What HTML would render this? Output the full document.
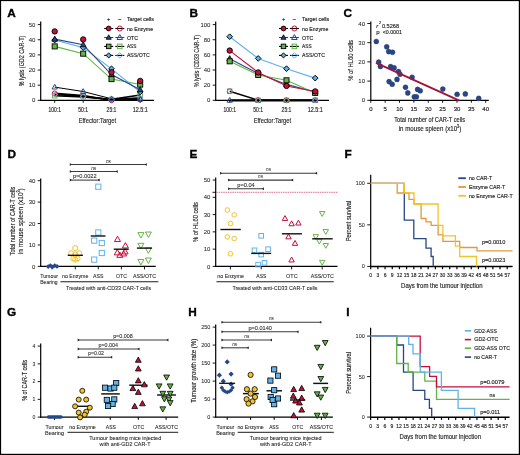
<!DOCTYPE html>
<html><head><meta charset="utf-8"><style>
html,body{margin:0;padding:0;background:#fff;}
svg{display:block;font-family:"Liberation Sans",sans-serif;will-change:transform;}
text{stroke:#2a2a2a;stroke-width:0.16px;}
</style></head><body>
<svg width="520" height="455" viewBox="0 0 520 455">
<rect x="0" y="0" width="520" height="455" fill="#fff"/>
<text x="7.2" y="17.2" font-size="11.8" text-anchor="start" fill="#000" font-weight="bold" style="stroke:#000;stroke-width:0.35px">A</text>
<line x1="40.7" y1="21.6" x2="40.7" y2="100.9" stroke="#000" stroke-width="1.2" />
<line x1="37.7" y1="100.3" x2="40.7" y2="100.3" stroke="#000" stroke-width="0.9" />
<text x="35.4" y="102.46" font-size="6" text-anchor="end" fill="#222" font-weight="normal" style="stroke-width:0.05px">0</text>
<line x1="37.7" y1="85.16" x2="40.7" y2="85.16" stroke="#000" stroke-width="0.9" />
<text x="35.4" y="87.32" font-size="6" text-anchor="end" fill="#222" font-weight="normal" style="stroke-width:0.05px">10</text>
<line x1="37.7" y1="70.02" x2="40.7" y2="70.02" stroke="#000" stroke-width="0.9" />
<text x="35.4" y="72.18" font-size="6" text-anchor="end" fill="#222" font-weight="normal" style="stroke-width:0.05px">20</text>
<line x1="37.7" y1="54.88" x2="40.7" y2="54.88" stroke="#000" stroke-width="0.9" />
<text x="35.4" y="57.04" font-size="6" text-anchor="end" fill="#222" font-weight="normal" style="stroke-width:0.05px">30</text>
<line x1="37.7" y1="39.74" x2="40.7" y2="39.74" stroke="#000" stroke-width="0.9" />
<text x="35.4" y="41.9" font-size="6" text-anchor="end" fill="#222" font-weight="normal" style="stroke-width:0.05px">40</text>
<line x1="37.7" y1="24.6" x2="40.7" y2="24.6" stroke="#000" stroke-width="0.9" />
<text x="35.4" y="26.76" font-size="6" text-anchor="end" fill="#222" font-weight="normal" style="stroke-width:0.05px">50</text>
<line x1="40.1" y1="100.3" x2="154" y2="100.3" stroke="#000" stroke-width="1.2" />
<line x1="54.7" y1="100.3" x2="54.7" y2="102.8" stroke="#000" stroke-width="0.9" />
<text x="54.7" y="111.5" font-size="6.3" text-anchor="middle" fill="#222" font-weight="normal" textLength="12.4" lengthAdjust="spacingAndGlyphs" >100:1</text>
<line x1="83.2" y1="100.3" x2="83.2" y2="102.8" stroke="#000" stroke-width="0.9" />
<text x="83.2" y="111.5" font-size="6.3" text-anchor="middle" fill="#222" font-weight="normal" textLength="9.8" lengthAdjust="spacingAndGlyphs" >50:1</text>
<line x1="111.5" y1="100.3" x2="111.5" y2="102.8" stroke="#000" stroke-width="0.9" />
<text x="111.5" y="111.5" font-size="6.3" text-anchor="middle" fill="#222" font-weight="normal" textLength="9.8" lengthAdjust="spacingAndGlyphs" >25:1</text>
<line x1="140.2" y1="100.3" x2="140.2" y2="102.8" stroke="#000" stroke-width="0.9" />
<text x="140.2" y="111.5" font-size="6.3" text-anchor="middle" fill="#222" font-weight="normal" textLength="15" lengthAdjust="spacingAndGlyphs" >12.5:1</text>
<text x="97.4" y="122.5" font-size="8" text-anchor="middle" fill="#222" font-weight="normal" textLength="37.3" lengthAdjust="spacingAndGlyphs" >Effector:Target</text>
<text x="23.7" y="61" font-size="7.9" text-anchor="middle" fill="#222" font-weight="normal" textLength="50.5" lengthAdjust="spacingAndGlyphs" transform="rotate(-90 23.7 61)" >% lysis (GD2 CAR-T)</text>
<text x="108.7" y="21.3" font-size="5.5" text-anchor="middle" fill="#222" font-weight="normal" >+</text>
<text x="119.8" y="21.3" font-size="5.5" text-anchor="middle" fill="#222" font-weight="normal" >–</text>
<text x="126.9" y="21.4" font-size="5.6" text-anchor="start" fill="#222" font-weight="normal" textLength="27.1" lengthAdjust="spacingAndGlyphs" >Target cells</text>
<line x1="104.2" y1="28.5" x2="113.2" y2="28.5" stroke="#000" stroke-width="1.1" />
<circle cx="108.7" cy="28.5" r="2.4" fill="#c80e3a" stroke="#000" stroke-width="0.9"/>
<line x1="115.3" y1="28.5" x2="124.3" y2="28.5" stroke="#000" stroke-width="1.1" />
<circle cx="119.8" cy="28.5" r="2.5" fill="none" stroke="#c80e3a" stroke-width="1"/>
<text x="126.9" y="30.5" font-size="5.6" text-anchor="start" fill="#222" font-weight="normal" textLength="26.2" lengthAdjust="spacingAndGlyphs" >no Enzyme</text>
<line x1="104.2" y1="37.5" x2="113.2" y2="37.5" stroke="#26478a" stroke-width="1.1" />
<polygon points="108.7,34.78 111.22,39.31 106.18,39.31" fill="#26478a" stroke="#000" stroke-width="0.8" stroke-linejoin="miter"/>
<line x1="115.3" y1="37.5" x2="124.3" y2="37.5" stroke="#26478a" stroke-width="1.1" />
<polygon points="119.8,34.52 122.56,39.49 117.04,39.49" fill="none" stroke="#26478a" stroke-width="1" stroke-linejoin="miter"/>
<text x="126.9" y="39.5" font-size="5.6" text-anchor="start" fill="#222" font-weight="normal" textLength="11.2" lengthAdjust="spacingAndGlyphs" >OTC</text>
<line x1="104.2" y1="46.4" x2="113.2" y2="46.4" stroke="#000" stroke-width="1.1" />
<rect x="106.44" y="44.14" width="4.51" height="4.51" fill="#62b545" stroke="#000" stroke-width="0.9"/>
<line x1="115.3" y1="46.4" x2="124.3" y2="46.4" stroke="#000" stroke-width="1.1" />
<rect x="117.52" y="44.12" width="4.56" height="4.56" fill="none" stroke="#62b545" stroke-width="1"/>
<text x="126.9" y="48.4" font-size="5.6" text-anchor="start" fill="#222" font-weight="normal" textLength="9.5" lengthAdjust="spacingAndGlyphs" >ASS</text>
<line x1="104.2" y1="55.4" x2="113.2" y2="55.4" stroke="#000" stroke-width="1.1" />
<polygon points="108.7,52.88 111.22,55.4 108.7,57.92 106.18,55.4" fill="#62b2ea" stroke="#000" stroke-width="1"/>
<line x1="115.3" y1="55.4" x2="124.3" y2="55.4" stroke="#000" stroke-width="1.1" />
<polygon points="119.8,52.64 122.56,55.4 119.8,58.16 117.04,55.4" fill="none" stroke="#62b2ea" stroke-width="1"/>
<text x="126.9" y="57.4" font-size="5.6" text-anchor="start" fill="#222" font-weight="normal" textLength="22.8" lengthAdjust="spacingAndGlyphs" >ASS/OTC</text>
<polyline points="54.7,87.13 83.2,91.52 111.5,98.79 140.2,99.09" fill="none" stroke="#000" stroke-width="1" stroke-linejoin="miter" />
<polyline points="54.7,93.34 83.2,95.46 111.5,100.3 140.2,99.54" fill="none" stroke="#000" stroke-width="1.6" stroke-linejoin="miter" />
<polyline points="54.7,94.4 83.2,96.36 111.5,99.69 140.2,97.88" fill="none" stroke="#000" stroke-width="1.6" stroke-linejoin="miter" />
<polyline points="54.7,95.76 83.2,96.97 111.5,99.39 140.2,95" fill="none" stroke="#000" stroke-width="1.6" stroke-linejoin="miter" />
<rect x="52.52" y="93.57" width="4.37" height="4.37" fill="none" stroke="#62b545" stroke-width="1"/>
<rect x="81.02" y="94.78" width="4.37" height="4.37" fill="none" stroke="#62b545" stroke-width="1"/>
<rect x="109.31" y="97.21" width="4.37" height="4.37" fill="none" stroke="#62b545" stroke-width="1"/>
<rect x="138.01" y="92.82" width="4.37" height="4.37" fill="none" stroke="#62b545" stroke-width="1"/>
<circle cx="54.7" cy="93.34" r="2.39" fill="none" stroke="#c80e3a" stroke-width="1"/>
<circle cx="83.2" cy="95.46" r="2.39" fill="none" stroke="#c80e3a" stroke-width="1"/>
<circle cx="111.5" cy="100.3" r="2.39" fill="none" stroke="#c80e3a" stroke-width="1"/>
<circle cx="140.2" cy="99.54" r="2.39" fill="none" stroke="#c80e3a" stroke-width="1"/>
<polygon points="54.7,91.75 57.34,94.4 54.7,97.04 52.06,94.4" fill="none" stroke="#62b2ea" stroke-width="1"/>
<polygon points="83.2,93.72 85.84,96.36 83.2,99.01 80.56,96.36" fill="none" stroke="#62b2ea" stroke-width="1"/>
<polygon points="111.5,97.05 114.14,99.69 111.5,102.34 108.86,99.69" fill="none" stroke="#62b2ea" stroke-width="1"/>
<polygon points="140.2,95.23 142.84,97.88 140.2,100.52 137.55,97.88" fill="none" stroke="#62b2ea" stroke-width="1"/>
<polygon points="54.7,84.27 57.34,89.03 52.06,89.03" fill="none" stroke="#26478a" stroke-width="1" stroke-linejoin="miter"/>
<polygon points="83.2,88.66 85.84,93.42 80.56,93.42" fill="none" stroke="#26478a" stroke-width="1" stroke-linejoin="miter"/>
<polygon points="111.5,95.93 114.14,100.69 108.86,100.69" fill="none" stroke="#26478a" stroke-width="1" stroke-linejoin="miter"/>
<polygon points="140.2,96.23 142.84,100.99 137.55,100.99" fill="none" stroke="#26478a" stroke-width="1" stroke-linejoin="miter"/>
<polyline points="54.7,46.4 83.2,53.67 111.5,79.1 140.2,84.55" fill="none" stroke="#62b545" stroke-width="1.1" stroke-linejoin="miter" />
<polyline points="54.7,40.04 83.2,47.61 111.5,68.81 140.2,91.97" fill="none" stroke="#62b2ea" stroke-width="1.1" stroke-linejoin="miter" />
<polyline points="54.7,39.13 83.2,44.74 111.5,74.56 140.2,89.85" fill="none" stroke="#26478a" stroke-width="1.1" stroke-linejoin="miter" />
<rect x="52.16" y="43.86" width="5.08" height="5.08" fill="#62b545" stroke="#000" stroke-width="0.9"/>
<rect x="80.66" y="51.13" width="5.08" height="5.08" fill="#62b545" stroke="#000" stroke-width="0.9"/>
<rect x="108.96" y="76.57" width="5.08" height="5.08" fill="#62b545" stroke="#000" stroke-width="0.9"/>
<rect x="137.66" y="82.02" width="5.08" height="5.08" fill="#62b545" stroke="#000" stroke-width="0.9"/>
<polygon points="54.7,37.21 57.54,40.04 54.7,42.88 51.87,40.04" fill="#62b2ea" stroke="#000" stroke-width="1"/>
<polygon points="83.2,44.78 86.03,47.61 83.2,50.45 80.37,47.61" fill="#62b2ea" stroke="#000" stroke-width="1"/>
<polygon points="111.5,65.97 114.33,68.81 111.5,71.64 108.67,68.81" fill="#62b2ea" stroke="#000" stroke-width="1"/>
<polygon points="140.2,89.14 143.03,91.97 140.2,94.81 137.36,91.97" fill="#62b2ea" stroke="#000" stroke-width="1"/>
<polygon points="54.7,36.07 57.54,41.18 51.87,41.18" fill="#26478a" stroke="#000" stroke-width="0.8" stroke-linejoin="miter"/>
<polygon points="83.2,41.67 86.03,46.78 80.37,46.78" fill="#26478a" stroke="#000" stroke-width="0.8" stroke-linejoin="miter"/>
<polygon points="111.5,71.5 114.33,76.6 108.67,76.6" fill="#26478a" stroke="#000" stroke-width="0.8" stroke-linejoin="miter"/>
<polygon points="140.2,86.79 143.03,91.89 137.36,91.89" fill="#26478a" stroke="#000" stroke-width="0.8" stroke-linejoin="miter"/>
<circle cx="54.7" cy="31.41" r="2.7" fill="#c80e3a" stroke="#000" stroke-width="0.9"/>
<circle cx="83.2" cy="39.44" r="2.7" fill="#c80e3a" stroke="#000" stroke-width="0.9"/>
<circle cx="111.5" cy="72.29" r="2.7" fill="#c80e3a" stroke="#000" stroke-width="0.9"/>
<circle cx="140.2" cy="80.92" r="2.7" fill="#c80e3a" stroke="#000" stroke-width="0.9"/>
<text x="189.4" y="17.2" font-size="11.8" text-anchor="start" fill="#000" font-weight="bold" style="stroke:#000;stroke-width:0.35px">B</text>
<line x1="215.7" y1="21.6" x2="215.7" y2="100.9" stroke="#000" stroke-width="1.2" />
<line x1="212.7" y1="100.3" x2="215.7" y2="100.3" stroke="#000" stroke-width="0.9" />
<text x="210.4" y="102.46" font-size="6" text-anchor="end" fill="#222" font-weight="normal" style="stroke-width:0.05px">0</text>
<line x1="212.7" y1="85.16" x2="215.7" y2="85.16" stroke="#000" stroke-width="0.9" />
<text x="210.4" y="87.32" font-size="6" text-anchor="end" fill="#222" font-weight="normal" style="stroke-width:0.05px">20</text>
<line x1="212.7" y1="70.02" x2="215.7" y2="70.02" stroke="#000" stroke-width="0.9" />
<text x="210.4" y="72.18" font-size="6" text-anchor="end" fill="#222" font-weight="normal" style="stroke-width:0.05px">40</text>
<line x1="212.7" y1="54.88" x2="215.7" y2="54.88" stroke="#000" stroke-width="0.9" />
<text x="210.4" y="57.04" font-size="6" text-anchor="end" fill="#222" font-weight="normal" style="stroke-width:0.05px">60</text>
<line x1="212.7" y1="39.74" x2="215.7" y2="39.74" stroke="#000" stroke-width="0.9" />
<text x="210.4" y="41.9" font-size="6" text-anchor="end" fill="#222" font-weight="normal" style="stroke-width:0.05px">80</text>
<line x1="212.7" y1="24.6" x2="215.7" y2="24.6" stroke="#000" stroke-width="0.9" />
<text x="210.4" y="26.76" font-size="6" text-anchor="end" fill="#222" font-weight="normal" style="stroke-width:0.05px">100</text>
<line x1="215.1" y1="100.3" x2="329" y2="100.3" stroke="#000" stroke-width="1.2" />
<line x1="229.7" y1="100.3" x2="229.7" y2="102.8" stroke="#000" stroke-width="0.9" />
<text x="229.7" y="111.5" font-size="6.3" text-anchor="middle" fill="#222" font-weight="normal" textLength="12.4" lengthAdjust="spacingAndGlyphs" >100:1</text>
<line x1="258.2" y1="100.3" x2="258.2" y2="102.8" stroke="#000" stroke-width="0.9" />
<text x="258.2" y="111.5" font-size="6.3" text-anchor="middle" fill="#222" font-weight="normal" textLength="9.8" lengthAdjust="spacingAndGlyphs" >50:1</text>
<line x1="286.5" y1="100.3" x2="286.5" y2="102.8" stroke="#000" stroke-width="0.9" />
<text x="286.5" y="111.5" font-size="6.3" text-anchor="middle" fill="#222" font-weight="normal" textLength="9.8" lengthAdjust="spacingAndGlyphs" >25:1</text>
<line x1="315.2" y1="100.3" x2="315.2" y2="102.8" stroke="#000" stroke-width="0.9" />
<text x="315.2" y="111.5" font-size="6.3" text-anchor="middle" fill="#222" font-weight="normal" textLength="15" lengthAdjust="spacingAndGlyphs" >12.5:1</text>
<text x="272.4" y="122.5" font-size="8" text-anchor="middle" fill="#222" font-weight="normal" textLength="37.3" lengthAdjust="spacingAndGlyphs" >Effector:Target</text>
<text x="198.5" y="61" font-size="7.9" text-anchor="middle" fill="#222" font-weight="normal" textLength="52" lengthAdjust="spacingAndGlyphs" transform="rotate(-90 198.5 61)" >% lysis (CD33 CAR-T)</text>
<text x="283.5" y="21.3" font-size="5.5" text-anchor="middle" fill="#222" font-weight="normal" >+</text>
<text x="294.4" y="21.3" font-size="5.5" text-anchor="middle" fill="#222" font-weight="normal" >–</text>
<text x="302.1" y="21.4" font-size="5.6" text-anchor="start" fill="#222" font-weight="normal" textLength="27.1" lengthAdjust="spacingAndGlyphs" >Target cells</text>
<line x1="279" y1="28.5" x2="288" y2="28.5" stroke="#000" stroke-width="1.1" />
<circle cx="283.5" cy="28.5" r="2.4" fill="#c80e3a" stroke="#000" stroke-width="0.9"/>
<line x1="289.9" y1="28.5" x2="298.9" y2="28.5" stroke="#000" stroke-width="1.1" />
<circle cx="294.4" cy="28.5" r="2.5" fill="none" stroke="#c80e3a" stroke-width="1"/>
<text x="302.1" y="30.5" font-size="5.6" text-anchor="start" fill="#222" font-weight="normal" textLength="26.2" lengthAdjust="spacingAndGlyphs" >no Enzyme</text>
<line x1="279" y1="37.5" x2="288" y2="37.5" stroke="#26478a" stroke-width="1.1" />
<polygon points="283.5,34.78 286.02,39.31 280.98,39.31" fill="#26478a" stroke="#000" stroke-width="0.8" stroke-linejoin="miter"/>
<line x1="289.9" y1="37.5" x2="298.9" y2="37.5" stroke="#26478a" stroke-width="1.1" />
<polygon points="294.4,34.52 297.16,39.49 291.64,39.49" fill="none" stroke="#26478a" stroke-width="1" stroke-linejoin="miter"/>
<text x="302.1" y="39.5" font-size="5.6" text-anchor="start" fill="#222" font-weight="normal" textLength="11.2" lengthAdjust="spacingAndGlyphs" >OTC</text>
<line x1="279" y1="46.4" x2="288" y2="46.4" stroke="#000" stroke-width="1.1" />
<rect x="281.24" y="44.14" width="4.51" height="4.51" fill="#62b545" stroke="#000" stroke-width="0.9"/>
<line x1="289.9" y1="46.4" x2="298.9" y2="46.4" stroke="#000" stroke-width="1.1" />
<rect x="292.12" y="44.12" width="4.56" height="4.56" fill="none" stroke="#62b545" stroke-width="1"/>
<text x="302.1" y="48.4" font-size="5.6" text-anchor="start" fill="#222" font-weight="normal" textLength="9.5" lengthAdjust="spacingAndGlyphs" >ASS</text>
<line x1="279" y1="55.4" x2="288" y2="55.4" stroke="#000" stroke-width="1.1" />
<polygon points="283.5,52.88 286.02,55.4 283.5,57.92 280.98,55.4" fill="#62b2ea" stroke="#000" stroke-width="1"/>
<line x1="289.9" y1="55.4" x2="298.9" y2="55.4" stroke="#000" stroke-width="1.1" />
<polygon points="294.4,52.64 297.16,55.4 294.4,58.16 291.64,55.4" fill="none" stroke="#62b2ea" stroke-width="1"/>
<text x="302.1" y="57.4" font-size="5.6" text-anchor="start" fill="#222" font-weight="normal" textLength="22.8" lengthAdjust="spacingAndGlyphs" >ASS/OTC</text>
<polyline points="229.7,91.22 258.2,100.3 286.5,100.3 315.2,100.3" fill="none" stroke="#000" stroke-width="1.4" stroke-linejoin="miter" />
<line x1="229.7" y1="100.3" x2="315.2" y2="100.3" stroke="#000" stroke-width="2.2" />
<polygon points="229.7,97.44 232.34,102.2 227.05,102.2" fill="none" stroke="#26478a" stroke-width="1" stroke-linejoin="miter"/>
<polygon points="258.2,97.44 260.84,102.2 255.55,102.2" fill="none" stroke="#26478a" stroke-width="1" stroke-linejoin="miter"/>
<polygon points="286.5,97.44 289.14,102.2 283.86,102.2" fill="none" stroke="#26478a" stroke-width="1" stroke-linejoin="miter"/>
<polygon points="315.2,97.44 317.84,102.2 312.56,102.2" fill="none" stroke="#26478a" stroke-width="1" stroke-linejoin="miter"/>
<rect x="227.51" y="89.03" width="4.37" height="4.37" fill="none" stroke="#62b545" stroke-width="1"/>
<rect x="256.01" y="98.11" width="4.37" height="4.37" fill="none" stroke="#62b545" stroke-width="1"/>
<rect x="284.31" y="98.11" width="4.37" height="4.37" fill="none" stroke="#62b545" stroke-width="1"/>
<rect x="313.01" y="98.11" width="4.37" height="4.37" fill="none" stroke="#62b545" stroke-width="1"/>
<circle cx="229.7" cy="91.22" r="2.39" fill="none" stroke="#c80e3a" stroke-width="1"/>
<circle cx="258.2" cy="100.3" r="2.39" fill="none" stroke="#c80e3a" stroke-width="1"/>
<circle cx="286.5" cy="100.3" r="2.39" fill="none" stroke="#c80e3a" stroke-width="1"/>
<circle cx="315.2" cy="100.3" r="2.39" fill="none" stroke="#c80e3a" stroke-width="1"/>
<polygon points="229.7,88.57 232.34,91.22 229.7,93.86 227.05,91.22" fill="none" stroke="#62b2ea" stroke-width="1"/>
<polygon points="258.2,97.66 260.84,100.3 258.2,102.94 255.55,100.3" fill="none" stroke="#62b2ea" stroke-width="1"/>
<polygon points="286.5,97.66 289.14,100.3 286.5,102.94 283.86,100.3" fill="none" stroke="#62b2ea" stroke-width="1"/>
<polygon points="315.2,97.66 317.84,100.3 315.2,102.94 312.56,100.3" fill="none" stroke="#62b2ea" stroke-width="1"/>
<polyline points="229.7,58.66 258.2,73.43 286.5,84.4 315.2,91.97" fill="none" stroke="#26478a" stroke-width="1.1" stroke-linejoin="miter" />
<polyline points="229.7,61.31 258.2,74.94 286.5,80.32 315.2,92.88" fill="none" stroke="#62b545" stroke-width="1.1" stroke-linejoin="miter" />
<polyline points="229.7,50.57 258.2,72.44 286.5,85.92 315.2,91.44" fill="none" stroke="#c80e3a" stroke-width="1.1" stroke-linejoin="miter" />
<polyline points="229.7,36.71 258.2,58.44 286.5,68.66 315.2,78.12" fill="none" stroke="#62b2ea" stroke-width="1.1" stroke-linejoin="miter" />
<polygon points="229.7,55.6 232.53,60.71 226.86,60.71" fill="#26478a" stroke="#000" stroke-width="0.8" stroke-linejoin="miter"/>
<polygon points="258.2,70.36 261.03,75.47 255.36,75.47" fill="#26478a" stroke="#000" stroke-width="0.8" stroke-linejoin="miter"/>
<polygon points="286.5,81.34 289.33,86.44 283.67,86.44" fill="#26478a" stroke="#000" stroke-width="0.8" stroke-linejoin="miter"/>
<polygon points="315.2,88.91 318.03,94.01 312.37,94.01" fill="#26478a" stroke="#000" stroke-width="0.8" stroke-linejoin="miter"/>
<rect x="227.16" y="58.78" width="5.08" height="5.08" fill="#62b545" stroke="#000" stroke-width="0.9"/>
<rect x="255.66" y="72.4" width="5.08" height="5.08" fill="#62b545" stroke="#000" stroke-width="0.9"/>
<rect x="283.96" y="77.78" width="5.08" height="5.08" fill="#62b545" stroke="#000" stroke-width="0.9"/>
<rect x="312.66" y="90.34" width="5.08" height="5.08" fill="#62b545" stroke="#000" stroke-width="0.9"/>
<circle cx="229.7" cy="50.57" r="2.7" fill="#c80e3a" stroke="#000" stroke-width="0.9"/>
<circle cx="258.2" cy="72.44" r="2.7" fill="#c80e3a" stroke="#000" stroke-width="0.9"/>
<circle cx="286.5" cy="85.92" r="2.7" fill="#c80e3a" stroke="#000" stroke-width="0.9"/>
<circle cx="315.2" cy="91.44" r="2.7" fill="#c80e3a" stroke="#000" stroke-width="0.9"/>
<polygon points="229.7,33.88 232.53,36.71 229.7,39.55 226.86,36.71" fill="#62b2ea" stroke="#000" stroke-width="1"/>
<polygon points="258.2,55.6 261.03,58.44 258.2,61.27 255.36,58.44" fill="#62b2ea" stroke="#000" stroke-width="1"/>
<polygon points="286.5,65.82 289.33,68.66 286.5,71.49 283.67,68.66" fill="#62b2ea" stroke="#000" stroke-width="1"/>
<polygon points="315.2,75.28 318.03,78.12 315.2,80.95 312.37,78.12" fill="#62b2ea" stroke="#000" stroke-width="1"/>
<text x="343.6" y="17" font-size="11.8" text-anchor="start" fill="#000" font-weight="bold" style="stroke:#000;stroke-width:0.35px">C</text>
<line x1="370.8" y1="21.5" x2="370.8" y2="100.9" stroke="#000" stroke-width="1.2" />
<line x1="367.3" y1="100.3" x2="370.8" y2="100.3" stroke="#000" stroke-width="0.9" />
<text x="365" y="102.46" font-size="6" text-anchor="end" fill="#222" font-weight="normal" style="stroke-width:0.05px">0</text>
<line x1="367.3" y1="81.1" x2="370.8" y2="81.1" stroke="#000" stroke-width="0.9" />
<text x="365" y="83.26" font-size="6" text-anchor="end" fill="#222" font-weight="normal" style="stroke-width:0.05px">10</text>
<line x1="367.3" y1="61.9" x2="370.8" y2="61.9" stroke="#000" stroke-width="0.9" />
<text x="365" y="64.06" font-size="6" text-anchor="end" fill="#222" font-weight="normal" style="stroke-width:0.05px">20</text>
<line x1="367.3" y1="42.7" x2="370.8" y2="42.7" stroke="#000" stroke-width="0.9" />
<text x="365" y="44.86" font-size="6" text-anchor="end" fill="#222" font-weight="normal" style="stroke-width:0.05px">30</text>
<line x1="367.3" y1="23.5" x2="370.8" y2="23.5" stroke="#000" stroke-width="0.9" />
<text x="365" y="25.66" font-size="6" text-anchor="end" fill="#222" font-weight="normal" style="stroke-width:0.05px">40</text>
<line x1="370.2" y1="100.3" x2="488.8" y2="100.3" stroke="#000" stroke-width="1.2" />
<line x1="370.8" y1="100.3" x2="370.8" y2="102.8" stroke="#000" stroke-width="0.9" />
<text x="370.8" y="111.3" font-size="6" text-anchor="middle" fill="#222" font-weight="normal" >0</text>
<line x1="385.16" y1="100.3" x2="385.16" y2="102.8" stroke="#000" stroke-width="0.9" />
<text x="385.16" y="111.3" font-size="6" text-anchor="middle" fill="#222" font-weight="normal" >5</text>
<line x1="399.53" y1="100.3" x2="399.53" y2="102.8" stroke="#000" stroke-width="0.9" />
<text x="399.53" y="111.3" font-size="6" text-anchor="middle" fill="#222" font-weight="normal" >10</text>
<line x1="413.89" y1="100.3" x2="413.89" y2="102.8" stroke="#000" stroke-width="0.9" />
<text x="413.89" y="111.3" font-size="6" text-anchor="middle" fill="#222" font-weight="normal" >15</text>
<line x1="428.25" y1="100.3" x2="428.25" y2="102.8" stroke="#000" stroke-width="0.9" />
<text x="428.25" y="111.3" font-size="6" text-anchor="middle" fill="#222" font-weight="normal" >20</text>
<line x1="442.61" y1="100.3" x2="442.61" y2="102.8" stroke="#000" stroke-width="0.9" />
<text x="442.61" y="111.3" font-size="6" text-anchor="middle" fill="#222" font-weight="normal" >25</text>
<line x1="456.98" y1="100.3" x2="456.98" y2="102.8" stroke="#000" stroke-width="0.9" />
<text x="456.98" y="111.3" font-size="6" text-anchor="middle" fill="#222" font-weight="normal" >30</text>
<line x1="471.34" y1="100.3" x2="471.34" y2="102.8" stroke="#000" stroke-width="0.9" />
<text x="471.34" y="111.3" font-size="6" text-anchor="middle" fill="#222" font-weight="normal" >35</text>
<line x1="485.7" y1="100.3" x2="485.7" y2="102.8" stroke="#000" stroke-width="0.9" />
<text x="485.7" y="111.3" font-size="6" text-anchor="middle" fill="#222" font-weight="normal" >40</text>
<text x="429.6" y="122" font-size="7.5" text-anchor="middle" fill="#222" font-weight="normal" textLength="70.8" lengthAdjust="spacingAndGlyphs" >Total number of CAR-T cells</text>
<text x="430" y="130.6" font-size="7.3" text-anchor="middle" fill="#222" font-weight="normal" textLength="62.5" lengthAdjust="spacingAndGlyphs" >in  mouse spleen (x10<tspan font-size="4.5" dy="-3">3</tspan><tspan dy="3">)</tspan></text>
<text x="353.3" y="60.4" font-size="7.9" text-anchor="middle" fill="#222" font-weight="normal" textLength="40.7" lengthAdjust="spacingAndGlyphs" transform="rotate(-90 353.3 60.4)" >% of HL60 cells</text>
<text x="376.3" y="28.3" font-size="6" text-anchor="start" fill="#222" font-weight="normal" font-style="italic">r</text>
<text x="379" y="24.3" font-size="4" text-anchor="start" fill="#222" font-weight="normal" >2</text>
<text x="381.9" y="28.3" font-size="6" text-anchor="start" fill="#222" font-weight="normal" textLength="17.2" lengthAdjust="spacingAndGlyphs" >0.5268</text>
<text x="376.3" y="34.2" font-size="6" text-anchor="start" fill="#222" font-weight="normal" >p</text>
<text x="382.7" y="34.2" font-size="6" text-anchor="start" fill="#222" font-weight="normal" textLength="19.2" lengthAdjust="spacingAndGlyphs" >&lt;0.0001</text>
<circle cx="376.3" cy="41.5" r="2.55" fill="#274784" stroke="#1d3a70" stroke-width="0.3"/>
<circle cx="386.7" cy="46.7" r="2.55" fill="#274784" stroke="#1d3a70" stroke-width="0.3"/>
<circle cx="388.7" cy="51.6" r="2.55" fill="#274784" stroke="#1d3a70" stroke-width="0.3"/>
<circle cx="392.5" cy="52.2" r="2.55" fill="#274784" stroke="#1d3a70" stroke-width="0.3"/>
<circle cx="378.7" cy="62.1" r="2.55" fill="#274784" stroke="#1d3a70" stroke-width="0.3"/>
<circle cx="380.4" cy="66.4" r="2.55" fill="#274784" stroke="#1d3a70" stroke-width="0.3"/>
<circle cx="390.6" cy="66.6" r="2.55" fill="#274784" stroke="#1d3a70" stroke-width="0.3"/>
<circle cx="394.1" cy="67.8" r="2.55" fill="#274784" stroke="#1d3a70" stroke-width="0.3"/>
<circle cx="398.5" cy="71.5" r="2.55" fill="#274784" stroke="#1d3a70" stroke-width="0.3"/>
<circle cx="400" cy="74.2" r="2.55" fill="#274784" stroke="#1d3a70" stroke-width="0.3"/>
<circle cx="412.1" cy="77.3" r="2.55" fill="#274784" stroke="#1d3a70" stroke-width="0.3"/>
<circle cx="389.1" cy="81.6" r="2.55" fill="#274784" stroke="#1d3a70" stroke-width="0.3"/>
<circle cx="392.2" cy="84.2" r="2.55" fill="#274784" stroke="#1d3a70" stroke-width="0.3"/>
<circle cx="397" cy="79.4" r="2.55" fill="#274784" stroke="#1d3a70" stroke-width="0.3"/>
<circle cx="405.5" cy="87.2" r="2.55" fill="#274784" stroke="#1d3a70" stroke-width="0.3"/>
<circle cx="407.8" cy="92.9" r="2.55" fill="#274784" stroke="#1d3a70" stroke-width="0.3"/>
<circle cx="414.3" cy="96.7" r="2.55" fill="#274784" stroke="#1d3a70" stroke-width="0.3"/>
<circle cx="416.4" cy="96.7" r="2.55" fill="#274784" stroke="#1d3a70" stroke-width="0.3"/>
<circle cx="417.6" cy="89.4" r="2.55" fill="#274784" stroke="#1d3a70" stroke-width="0.3"/>
<circle cx="420.2" cy="90.8" r="2.55" fill="#274784" stroke="#1d3a70" stroke-width="0.3"/>
<circle cx="442.8" cy="89.1" r="2.55" fill="#274784" stroke="#1d3a70" stroke-width="0.3"/>
<circle cx="457.1" cy="94.3" r="2.55" fill="#274784" stroke="#1d3a70" stroke-width="0.3"/>
<circle cx="465.3" cy="93.9" r="2.55" fill="#274784" stroke="#1d3a70" stroke-width="0.3"/>
<circle cx="478.7" cy="98.4" r="2.55" fill="#274784" stroke="#1d3a70" stroke-width="0.3"/>
<line x1="376" y1="62.9" x2="459.4" y2="100.6" stroke="#a3143a" stroke-width="1.9" />
<text x="7.4" y="157.6" font-size="11.8" text-anchor="start" fill="#000" font-weight="bold" style="stroke:#000;stroke-width:0.35px">D</text>
<line x1="40.7" y1="178.5" x2="40.7" y2="267" stroke="#000" stroke-width="1.2" />
<line x1="37.7" y1="266.4" x2="40.7" y2="266.4" stroke="#000" stroke-width="0.9" />
<text x="35.4" y="268.56" font-size="6" text-anchor="end" fill="#222" font-weight="normal" style="stroke-width:0.05px">0</text>
<line x1="37.7" y1="244.97" x2="40.7" y2="244.97" stroke="#000" stroke-width="0.9" />
<text x="35.4" y="247.13" font-size="6" text-anchor="end" fill="#222" font-weight="normal" style="stroke-width:0.05px">10</text>
<line x1="37.7" y1="223.54" x2="40.7" y2="223.54" stroke="#000" stroke-width="0.9" />
<text x="35.4" y="225.7" font-size="6" text-anchor="end" fill="#222" font-weight="normal" style="stroke-width:0.05px">20</text>
<line x1="37.7" y1="202.11" x2="40.7" y2="202.11" stroke="#000" stroke-width="0.9" />
<text x="35.4" y="204.27" font-size="6" text-anchor="end" fill="#222" font-weight="normal" style="stroke-width:0.05px">30</text>
<line x1="37.7" y1="180.68" x2="40.7" y2="180.68" stroke="#000" stroke-width="0.9" />
<text x="35.4" y="182.84" font-size="6" text-anchor="end" fill="#222" font-weight="normal" style="stroke-width:0.05px">40</text>
<line x1="40.1" y1="266.4" x2="155.7" y2="266.4" stroke="#000" stroke-width="1.2" />
<line x1="51.9" y1="266.4" x2="51.9" y2="269.4" stroke="#000" stroke-width="0.9" />
<line x1="75.3" y1="266.4" x2="75.3" y2="269.4" stroke="#000" stroke-width="0.9" />
<line x1="98.3" y1="266.4" x2="98.3" y2="269.4" stroke="#000" stroke-width="0.9" />
<line x1="121.4" y1="266.4" x2="121.4" y2="269.4" stroke="#000" stroke-width="0.9" />
<line x1="144.5" y1="266.4" x2="144.5" y2="269.4" stroke="#000" stroke-width="0.9" />
<text x="49.15" y="277.6" font-size="5.6" text-anchor="middle" fill="#222" font-weight="normal" textLength="17.9" lengthAdjust="spacingAndGlyphs" style="stroke-width:0.08px">Tumour</text>
<text x="48.9" y="283.8" font-size="5.6" text-anchor="middle" fill="#222" font-weight="normal" textLength="17.3" lengthAdjust="spacingAndGlyphs" style="stroke-width:0.08px">Bearing</text>
<text x="75.2" y="277.7" font-size="5.6" text-anchor="middle" fill="#222" font-weight="normal" textLength="26.2" lengthAdjust="spacingAndGlyphs" style="stroke-width:0.08px">no Enzyme</text>
<text x="98.3" y="277.6" font-size="5.6" text-anchor="middle" fill="#222" font-weight="normal" textLength="10.4" lengthAdjust="spacingAndGlyphs" style="stroke-width:0.08px">ASS</text>
<text x="121.5" y="277.6" font-size="5.6" text-anchor="middle" fill="#222" font-weight="normal" textLength="10.9" lengthAdjust="spacingAndGlyphs" style="stroke-width:0.08px">OTC</text>
<text x="144.5" y="277.6" font-size="5.6" text-anchor="middle" fill="#222" font-weight="normal" textLength="23.2" lengthAdjust="spacingAndGlyphs" style="stroke-width:0.08px">ASS/OTC</text>
<line x1="60.5" y1="281.75" x2="158.3" y2="281.75" stroke="#000" stroke-width="0.9" />
<text x="108.6" y="289.5" font-size="5.6" text-anchor="middle" fill="#222" font-weight="normal" textLength="85" lengthAdjust="spacingAndGlyphs" style="stroke-width:0.08px">Treated with anti-CD33 CAR-T cells</text>
<text x="14.8" y="221" font-size="7.9" text-anchor="middle" fill="#222" font-weight="normal" textLength="68.6" lengthAdjust="spacingAndGlyphs" transform="rotate(-90 14.8 221)" >Total number of CAR-T cells</text>
<text x="23" y="221.2" font-size="7.9" text-anchor="middle" fill="#222" font-weight="normal" textLength="66" lengthAdjust="spacingAndGlyphs" transform="rotate(-90 23 221.2)" >in  mouse spleen (x10<tspan font-size="4.5" dy="-3">3</tspan><tspan dy="3">)</tspan></text>
<line x1="70" y1="164.5" x2="146.5" y2="164.5" stroke="#3a3a3a" stroke-width="1.05" />
<polygon points="69.8,163 71.7,164.5 69.8,166" fill="#222"/>
<polygon points="146.7,163 144.8,164.5 146.7,166" fill="#222"/>
<text x="108.4" y="162.6" font-size="5.2" text-anchor="middle" fill="#333" font-weight="normal" textLength="5" lengthAdjust="spacingAndGlyphs" font-style="italic" style="stroke-width:0.05px">ns</text>
<line x1="70" y1="171.4" x2="117.4" y2="171.4" stroke="#3a3a3a" stroke-width="1.05" />
<polygon points="69.8,169.9 71.7,171.4 69.8,172.9" fill="#222"/>
<polygon points="117.6,169.9 115.7,171.4 117.6,172.9" fill="#222"/>
<text x="93.7" y="169.5" font-size="5.2" text-anchor="middle" fill="#333" font-weight="normal" textLength="5" lengthAdjust="spacingAndGlyphs" font-style="italic" style="stroke-width:0.05px">ns</text>
<line x1="70" y1="180.1" x2="99.4" y2="180.1" stroke="#3a3a3a" stroke-width="1.05" />
<polygon points="69.8,178.6 71.7,180.1 69.8,181.6" fill="#222"/>
<polygon points="99.6,178.6 97.7,180.1 99.6,181.6" fill="#222"/>
<text x="84.8" y="178.2" font-size="5.8" text-anchor="middle" fill="#333" font-weight="normal" textLength="23.7" lengthAdjust="spacingAndGlyphs" style="stroke-width:0.1px">p=0.0022</text>
<polygon points="48.2,264.2 50.6,266.6 48.2,269 45.8,266.6" fill="#26478a" stroke="#26478a" stroke-width="0"/>
<polygon points="50.4,263.2 52.8,265.6 50.4,268 48,265.6" fill="#26478a" stroke="#26478a" stroke-width="0"/>
<polygon points="52.6,264.4 55,266.8 52.6,269.2 50.2,266.8" fill="#26478a" stroke="#26478a" stroke-width="0"/>
<polygon points="54.8,263.2 57.2,265.6 54.8,268 52.4,265.6" fill="#26478a" stroke="#26478a" stroke-width="0"/>
<polygon points="57,264 59.4,266.4 57,268.8 54.6,266.4" fill="#26478a" stroke="#26478a" stroke-width="0"/>
<circle cx="75.2" cy="248.1" r="2.55" fill="none" stroke="#f3c22a" stroke-width="1"/>
<circle cx="71.1" cy="253.3" r="2.55" fill="none" stroke="#f3c22a" stroke-width="1"/>
<circle cx="79.2" cy="253.3" r="2.55" fill="none" stroke="#f3c22a" stroke-width="1"/>
<circle cx="75.2" cy="254.5" r="2.55" fill="none" stroke="#f3c22a" stroke-width="1"/>
<circle cx="73.4" cy="258.4" r="2.55" fill="none" stroke="#f3c22a" stroke-width="1"/>
<circle cx="77.5" cy="258.4" r="2.55" fill="none" stroke="#f3c22a" stroke-width="1"/>
<circle cx="75.2" cy="259.6" r="2.55" fill="none" stroke="#f3c22a" stroke-width="1"/>
<line x1="67.7" y1="255.3" x2="82.9" y2="255.3" stroke="#111" stroke-width="1.4" />
<rect x="95.7" y="184.1" width="5.2" height="5.2" fill="none" stroke="#62b2ea" stroke-width="1"/>
<rect x="95.7" y="229.9" width="5.2" height="5.2" fill="none" stroke="#62b2ea" stroke-width="1"/>
<rect x="91.6" y="238" width="5.2" height="5.2" fill="none" stroke="#62b2ea" stroke-width="1"/>
<rect x="99.2" y="240.4" width="5.2" height="5.2" fill="none" stroke="#62b2ea" stroke-width="1"/>
<rect x="99.2" y="250.4" width="5.2" height="5.2" fill="none" stroke="#62b2ea" stroke-width="1"/>
<rect x="91.6" y="257" width="5.2" height="5.2" fill="none" stroke="#62b2ea" stroke-width="1"/>
<line x1="90.7" y1="236" x2="105.5" y2="236" stroke="#111" stroke-width="1.4" />
<polygon points="117.5,236.16 120.5,241.56 114.5,241.56" fill="none" stroke="#c80e3a" stroke-width="1" stroke-linejoin="miter"/>
<polygon points="125.4,242.56 128.4,247.96 122.4,247.96" fill="none" stroke="#c80e3a" stroke-width="1" stroke-linejoin="miter"/>
<polygon points="117.3,249.46 120.3,254.86 114.3,254.86" fill="none" stroke="#c80e3a" stroke-width="1" stroke-linejoin="miter"/>
<polygon points="125.1,248.56 128.1,253.96 122.1,253.96" fill="none" stroke="#c80e3a" stroke-width="1" stroke-linejoin="miter"/>
<polygon points="119.8,251.96 122.8,257.36 116.8,257.36" fill="none" stroke="#c80e3a" stroke-width="1" stroke-linejoin="miter"/>
<polygon points="123.6,250.56 126.6,255.96 120.6,255.96" fill="none" stroke="#c80e3a" stroke-width="1" stroke-linejoin="miter"/>
<line x1="113.8" y1="249.2" x2="128.8" y2="249.2" stroke="#111" stroke-width="1.4" />
<polygon points="140.9,238.04 143.9,232.64 137.9,232.64" fill="none" stroke="#62b545" stroke-width="1" stroke-linejoin="miter"/>
<polygon points="148.4,237.44 151.4,232.04 145.4,232.04" fill="none" stroke="#62b545" stroke-width="1" stroke-linejoin="miter"/>
<polygon points="140.9,248.74 143.9,243.34 137.9,243.34" fill="none" stroke="#62b545" stroke-width="1" stroke-linejoin="miter"/>
<polygon points="148.4,253.34 151.4,247.94 145.4,247.94" fill="none" stroke="#62b545" stroke-width="1" stroke-linejoin="miter"/>
<polygon points="140.9,264.94 143.9,259.54 137.9,259.54" fill="none" stroke="#62b545" stroke-width="1" stroke-linejoin="miter"/>
<polygon points="148.4,263.44 151.4,258.04 145.4,258.04" fill="none" stroke="#62b545" stroke-width="1" stroke-linejoin="miter"/>
<line x1="136.9" y1="248.1" x2="152.1" y2="248.1" stroke="#111" stroke-width="1.4" />
<text x="189.6" y="157.6" font-size="11.8" text-anchor="start" fill="#000" font-weight="bold" style="stroke:#000;stroke-width:0.35px">E</text>
<line x1="215.7" y1="177.5" x2="215.7" y2="267" stroke="#000" stroke-width="1.2" />
<line x1="212.7" y1="266.4" x2="215.7" y2="266.4" stroke="#000" stroke-width="0.9" />
<text x="210.4" y="268.56" font-size="6" text-anchor="end" fill="#222" font-weight="normal" style="stroke-width:0.05px">0</text>
<line x1="212.7" y1="249.13" x2="215.7" y2="249.13" stroke="#000" stroke-width="0.9" />
<text x="210.4" y="251.29" font-size="6" text-anchor="end" fill="#222" font-weight="normal" style="stroke-width:0.05px">10</text>
<line x1="212.7" y1="231.86" x2="215.7" y2="231.86" stroke="#000" stroke-width="0.9" />
<text x="210.4" y="234.02" font-size="6" text-anchor="end" fill="#222" font-weight="normal" style="stroke-width:0.05px">20</text>
<line x1="212.7" y1="214.59" x2="215.7" y2="214.59" stroke="#000" stroke-width="0.9" />
<text x="210.4" y="216.75" font-size="6" text-anchor="end" fill="#222" font-weight="normal" style="stroke-width:0.05px">30</text>
<line x1="212.7" y1="197.32" x2="215.7" y2="197.32" stroke="#000" stroke-width="0.9" />
<text x="210.4" y="199.48" font-size="6" text-anchor="end" fill="#222" font-weight="normal" style="stroke-width:0.05px">40</text>
<line x1="212.7" y1="180.05" x2="215.7" y2="180.05" stroke="#000" stroke-width="0.9" />
<text x="210.4" y="182.21" font-size="6" text-anchor="end" fill="#222" font-weight="normal" style="stroke-width:0.05px">50</text>
<line x1="215.1" y1="266.4" x2="337.5" y2="266.4" stroke="#000" stroke-width="1.2" />
<line x1="230.4" y1="266.4" x2="230.4" y2="269.4" stroke="#000" stroke-width="0.9" />
<line x1="261.2" y1="266.4" x2="261.2" y2="269.4" stroke="#000" stroke-width="0.9" />
<line x1="291.6" y1="266.4" x2="291.6" y2="269.4" stroke="#000" stroke-width="0.9" />
<line x1="322.2" y1="266.4" x2="322.2" y2="269.4" stroke="#000" stroke-width="0.9" />
<text x="230.6" y="277.75" font-size="5.6" text-anchor="middle" fill="#222" font-weight="normal" textLength="26.7" lengthAdjust="spacingAndGlyphs" style="stroke-width:0.08px">no Enzyme</text>
<text x="261.3" y="277.75" font-size="5.6" text-anchor="middle" fill="#222" font-weight="normal" textLength="10" lengthAdjust="spacingAndGlyphs" style="stroke-width:0.08px">ASS</text>
<text x="291.9" y="277.75" font-size="5.6" text-anchor="middle" fill="#222" font-weight="normal" textLength="11.7" lengthAdjust="spacingAndGlyphs" style="stroke-width:0.08px">OTC</text>
<text x="322.2" y="277.75" font-size="5.6" text-anchor="middle" fill="#222" font-weight="normal" textLength="23.1" lengthAdjust="spacingAndGlyphs" style="stroke-width:0.08px">ASS/OTC</text>
<line x1="216.5" y1="281.75" x2="333.75" y2="281.75" stroke="#000" stroke-width="0.9" />
<text x="275" y="289.5" font-size="5.6" text-anchor="middle" fill="#222" font-weight="normal" textLength="85" lengthAdjust="spacingAndGlyphs" style="stroke-width:0.08px">Treated with anti-CD33 CAR-T cells</text>
<text x="198.4" y="222" font-size="7.9" text-anchor="middle" fill="#222" font-weight="normal" textLength="40" lengthAdjust="spacingAndGlyphs" transform="rotate(-90 198.4 222)" >% of HL60 cells</text>
<line x1="216.3" y1="192.3" x2="337.7" y2="192.3" stroke="#d04a6a" stroke-width="0.8" stroke-dasharray="1.5 0.8"/>
<line x1="212.5" y1="192.3" x2="215.7" y2="192.3" stroke="#000" stroke-width="0.9" />
<line x1="220.3" y1="173.2" x2="316.9" y2="173.2" stroke="#3a3a3a" stroke-width="1.05" />
<polygon points="220.1,171.7 222,173.2 220.1,174.7" fill="#222"/>
<polygon points="317.1,171.7 315.2,173.2 317.1,174.7" fill="#222"/>
<text x="268.5" y="171.3" font-size="5.2" text-anchor="middle" fill="#333" font-weight="normal" textLength="5" lengthAdjust="spacingAndGlyphs" font-style="italic" style="stroke-width:0.05px">ns</text>
<line x1="228.3" y1="180.1" x2="293" y2="180.1" stroke="#3a3a3a" stroke-width="1.05" />
<polygon points="228.1,178.6 230,180.1 228.1,181.6" fill="#222"/>
<polygon points="293.2,178.6 291.3,180.1 293.2,181.6" fill="#222"/>
<text x="260.5" y="178.2" font-size="5.2" text-anchor="middle" fill="#333" font-weight="normal" textLength="5" lengthAdjust="spacingAndGlyphs" font-style="italic" style="stroke-width:0.05px">ns</text>
<line x1="228.3" y1="188.8" x2="263.7" y2="188.8" stroke="#3a3a3a" stroke-width="1.05" />
<polygon points="228.1,187.3 230,188.8 228.1,190.3" fill="#222"/>
<polygon points="263.9,187.3 262,188.8 263.9,190.3" fill="#222"/>
<text x="246" y="186.9" font-size="5.8" text-anchor="middle" fill="#333" font-weight="normal" textLength="17.5" lengthAdjust="spacingAndGlyphs" style="stroke-width:0.1px">p=0.04</text>
<circle cx="227.3" cy="210" r="2.3" fill="none" stroke="#f3c22a" stroke-width="1"/>
<circle cx="234.2" cy="214.9" r="2.3" fill="none" stroke="#f3c22a" stroke-width="1"/>
<circle cx="230.4" cy="223.5" r="2.3" fill="none" stroke="#f3c22a" stroke-width="1"/>
<circle cx="227.3" cy="236.9" r="2.3" fill="none" stroke="#f3c22a" stroke-width="1"/>
<circle cx="234.2" cy="238.5" r="2.3" fill="none" stroke="#f3c22a" stroke-width="1"/>
<circle cx="230.4" cy="253.8" r="2.3" fill="none" stroke="#f3c22a" stroke-width="1"/>
<line x1="220.4" y1="229.5" x2="240.8" y2="229.5" stroke="#111" stroke-width="1.4" />
<rect x="258.9" y="233.5" width="4.6" height="4.6" fill="none" stroke="#62b2ea" stroke-width="1"/>
<rect x="252.2" y="248" width="4.6" height="4.6" fill="none" stroke="#62b2ea" stroke-width="1"/>
<rect x="265.8" y="246.9" width="4.6" height="4.6" fill="none" stroke="#62b2ea" stroke-width="1"/>
<rect x="258.9" y="252.3" width="4.6" height="4.6" fill="none" stroke="#62b2ea" stroke-width="1"/>
<rect x="255.8" y="262.3" width="4.6" height="4.6" fill="none" stroke="#62b2ea" stroke-width="1"/>
<rect x="262.2" y="260.5" width="4.6" height="4.6" fill="none" stroke="#62b2ea" stroke-width="1"/>
<line x1="251.2" y1="253.4" x2="271.2" y2="253.4" stroke="#111" stroke-width="1.4" />
<polygon points="285,215.58 287.7,220.44 282.3,220.44" fill="none" stroke="#c80e3a" stroke-width="1" stroke-linejoin="miter"/>
<polygon points="291.6,220.88 294.3,225.74 288.9,225.74" fill="none" stroke="#c80e3a" stroke-width="1" stroke-linejoin="miter"/>
<polygon points="298.4,220.18 301.1,225.04 295.7,225.04" fill="none" stroke="#c80e3a" stroke-width="1" stroke-linejoin="miter"/>
<polygon points="288.5,233.98 291.2,238.84 285.8,238.84" fill="none" stroke="#c80e3a" stroke-width="1" stroke-linejoin="miter"/>
<polygon points="295,240.48 297.7,245.34 292.3,245.34" fill="none" stroke="#c80e3a" stroke-width="1" stroke-linejoin="miter"/>
<polygon points="291.6,257.08 294.3,261.94 288.9,261.94" fill="none" stroke="#c80e3a" stroke-width="1" stroke-linejoin="miter"/>
<line x1="281.9" y1="233.8" x2="301.9" y2="233.8" stroke="#111" stroke-width="1.4" />
<polygon points="322.2,216.42 324.9,211.56 319.5,211.56" fill="none" stroke="#62b545" stroke-width="1" stroke-linejoin="miter"/>
<polygon points="325.8,234.42 328.5,229.56 323.1,229.56" fill="none" stroke="#62b545" stroke-width="1" stroke-linejoin="miter"/>
<polygon points="315.8,239.52 318.5,234.66 313.1,234.66" fill="none" stroke="#62b545" stroke-width="1" stroke-linejoin="miter"/>
<polygon points="319.3,244.12 322,239.26 316.6,239.26" fill="none" stroke="#62b545" stroke-width="1" stroke-linejoin="miter"/>
<polygon points="325.8,248.32 328.5,243.46 323.1,243.46" fill="none" stroke="#62b545" stroke-width="1" stroke-linejoin="miter"/>
<polygon points="322.2,265.22 324.9,260.36 319.5,260.36" fill="none" stroke="#62b545" stroke-width="1" stroke-linejoin="miter"/>
<line x1="312.2" y1="238.8" x2="332.7" y2="238.8" stroke="#111" stroke-width="1.4" />
<text x="344.6" y="157.6" font-size="11.8" text-anchor="start" fill="#000" font-weight="bold" style="stroke:#000;stroke-width:0.35px">F</text>
<line x1="370.7" y1="174.8" x2="370.7" y2="267" stroke="#000" stroke-width="1.2" />
<line x1="367.2" y1="266.4" x2="370.7" y2="266.4" stroke="#000" stroke-width="0.9" />
<text x="364.9" y="268.38" font-size="5.5" text-anchor="end" fill="#222" font-weight="normal" style="stroke-width:0.05px">0</text>
<line x1="367.2" y1="224.85" x2="370.7" y2="224.85" stroke="#000" stroke-width="0.9" />
<text x="364.9" y="226.83" font-size="5.5" text-anchor="end" fill="#222" font-weight="normal" style="stroke-width:0.05px">50</text>
<line x1="367.2" y1="183.3" x2="370.7" y2="183.3" stroke="#000" stroke-width="0.9" />
<text x="364.9" y="185.28" font-size="5.5" text-anchor="end" fill="#222" font-weight="normal" style="stroke-width:0.05px">100</text>
<line x1="370" y1="266.5" x2="512.6" y2="266.5" stroke="#000" stroke-width="1.5" />
<line x1="370.7" y1="266.5" x2="370.7" y2="269.2" stroke="#000" stroke-width="1.2" />
<text x="370.7" y="277.4" font-size="5.5" text-anchor="middle" fill="#222" font-weight="normal" textLength="2.8" lengthAdjust="spacingAndGlyphs" >0</text>
<line x1="377.88" y1="266.5" x2="377.88" y2="269.2" stroke="#000" stroke-width="1.2" />
<text x="377.88" y="277.4" font-size="5.5" text-anchor="middle" fill="#222" font-weight="normal" textLength="2.8" lengthAdjust="spacingAndGlyphs" >3</text>
<line x1="385.07" y1="266.5" x2="385.07" y2="269.2" stroke="#000" stroke-width="1.2" />
<text x="385.07" y="277.4" font-size="5.5" text-anchor="middle" fill="#222" font-weight="normal" textLength="2.8" lengthAdjust="spacingAndGlyphs" >6</text>
<line x1="392.25" y1="266.5" x2="392.25" y2="269.2" stroke="#000" stroke-width="1.2" />
<text x="392.25" y="277.4" font-size="5.5" text-anchor="middle" fill="#222" font-weight="normal" textLength="2.8" lengthAdjust="spacingAndGlyphs" >9</text>
<line x1="399.44" y1="266.5" x2="399.44" y2="269.2" stroke="#000" stroke-width="1.2" />
<text x="399.44" y="277.4" font-size="5.5" text-anchor="middle" fill="#222" font-weight="normal" textLength="5.5" lengthAdjust="spacingAndGlyphs" >12</text>
<line x1="406.62" y1="266.5" x2="406.62" y2="269.2" stroke="#000" stroke-width="1.2" />
<text x="406.62" y="277.4" font-size="5.5" text-anchor="middle" fill="#222" font-weight="normal" textLength="5.5" lengthAdjust="spacingAndGlyphs" >15</text>
<line x1="413.81" y1="266.5" x2="413.81" y2="269.2" stroke="#000" stroke-width="1.2" />
<text x="413.81" y="277.4" font-size="5.5" text-anchor="middle" fill="#222" font-weight="normal" textLength="5.5" lengthAdjust="spacingAndGlyphs" >18</text>
<line x1="421" y1="266.5" x2="421" y2="269.2" stroke="#000" stroke-width="1.2" />
<text x="421" y="277.4" font-size="5.5" text-anchor="middle" fill="#222" font-weight="normal" textLength="5.5" lengthAdjust="spacingAndGlyphs" >21</text>
<line x1="428.18" y1="266.5" x2="428.18" y2="269.2" stroke="#000" stroke-width="1.2" />
<text x="428.18" y="277.4" font-size="5.5" text-anchor="middle" fill="#222" font-weight="normal" textLength="5.5" lengthAdjust="spacingAndGlyphs" >24</text>
<line x1="435.37" y1="266.5" x2="435.37" y2="269.2" stroke="#000" stroke-width="1.2" />
<text x="435.37" y="277.4" font-size="5.5" text-anchor="middle" fill="#222" font-weight="normal" textLength="5.5" lengthAdjust="spacingAndGlyphs" >27</text>
<line x1="442.55" y1="266.5" x2="442.55" y2="269.2" stroke="#000" stroke-width="1.2" />
<text x="442.55" y="277.4" font-size="5.5" text-anchor="middle" fill="#222" font-weight="normal" textLength="5.5" lengthAdjust="spacingAndGlyphs" >30</text>
<line x1="449.74" y1="266.5" x2="449.74" y2="269.2" stroke="#000" stroke-width="1.2" />
<text x="449.74" y="277.4" font-size="5.5" text-anchor="middle" fill="#222" font-weight="normal" textLength="5.5" lengthAdjust="spacingAndGlyphs" >33</text>
<line x1="456.92" y1="266.5" x2="456.92" y2="269.2" stroke="#000" stroke-width="1.2" />
<text x="456.92" y="277.4" font-size="5.5" text-anchor="middle" fill="#222" font-weight="normal" textLength="5.5" lengthAdjust="spacingAndGlyphs" >36</text>
<line x1="464.11" y1="266.5" x2="464.11" y2="269.2" stroke="#000" stroke-width="1.2" />
<text x="464.11" y="277.4" font-size="5.5" text-anchor="middle" fill="#222" font-weight="normal" textLength="5.5" lengthAdjust="spacingAndGlyphs" >39</text>
<line x1="471.29" y1="266.5" x2="471.29" y2="269.2" stroke="#000" stroke-width="1.2" />
<text x="471.29" y="277.4" font-size="5.5" text-anchor="middle" fill="#222" font-weight="normal" textLength="5.5" lengthAdjust="spacingAndGlyphs" >42</text>
<line x1="478.47" y1="266.5" x2="478.47" y2="269.2" stroke="#000" stroke-width="1.2" />
<text x="478.47" y="277.4" font-size="5.5" text-anchor="middle" fill="#222" font-weight="normal" textLength="5.5" lengthAdjust="spacingAndGlyphs" >45</text>
<line x1="485.66" y1="266.5" x2="485.66" y2="269.2" stroke="#000" stroke-width="1.2" />
<text x="485.66" y="277.4" font-size="5.5" text-anchor="middle" fill="#222" font-weight="normal" textLength="5.5" lengthAdjust="spacingAndGlyphs" >48</text>
<line x1="492.84" y1="266.5" x2="492.84" y2="269.2" stroke="#000" stroke-width="1.2" />
<text x="492.84" y="277.4" font-size="5.5" text-anchor="middle" fill="#222" font-weight="normal" textLength="5.5" lengthAdjust="spacingAndGlyphs" >51</text>
<line x1="500.03" y1="266.5" x2="500.03" y2="269.2" stroke="#000" stroke-width="1.2" />
<text x="500.03" y="277.4" font-size="5.5" text-anchor="middle" fill="#222" font-weight="normal" textLength="5.5" lengthAdjust="spacingAndGlyphs" >54</text>
<line x1="507.21" y1="266.5" x2="507.21" y2="269.2" stroke="#000" stroke-width="1.2" />
<text x="507.21" y="277.4" font-size="5.5" text-anchor="middle" fill="#222" font-weight="normal" textLength="5.5" lengthAdjust="spacingAndGlyphs" >57</text>
<text x="441.8" y="288.1" font-size="7.3" text-anchor="middle" fill="#222" font-weight="normal" textLength="81.5" lengthAdjust="spacingAndGlyphs" >Days from the tumour injection</text>
<text x="351.2" y="221" font-size="7.9" text-anchor="middle" fill="#222" font-weight="normal" textLength="40.6" lengthAdjust="spacingAndGlyphs" transform="rotate(-90 351.2 221)" >Percent survival</text>
<polyline points="370.7,183.3 404.3,183.3 404.3,220.2 413.8,220.2 413.8,238.7 426,238.7 426,248.2 431.1,248.2 431.1,256.5 433.2,256.5 433.2,266.4" fill="none" stroke="#26478a" stroke-width="1.3" stroke-linejoin="miter" />
<polyline points="370.7,183.3 397.2,183.3 397.2,193 409,193 409,199.3 414,199.3 414,204 421.1,204 421.1,218.5 426,218.5 426,221.9 431.1,221.9 431.1,225.4 438.1,225.4 438.1,234.9 442.9,234.9 442.9,241.3 459.7,241.3 459.7,247.5 477,247.5 477,250.8 512.6,250.8" fill="none" stroke="#e3983a" stroke-width="1.3" stroke-linejoin="miter" />
<polyline points="370.7,183.3 404.4,183.3 404.4,193 414,193 414,204 438.1,204 438.1,225.4 442.9,225.4 442.9,235.8 455.4,235.8 455.4,246.1 459.7,246.1 459.7,256.5 476.5,256.5 476.5,266.4" fill="none" stroke="#f3c22a" stroke-width="1.3" stroke-linejoin="miter" />
<line x1="458.3" y1="178.2" x2="465.9" y2="178.2" stroke="#26478a" stroke-width="1.8" />
<text x="468.9" y="180" font-size="5.6" text-anchor="start" fill="#222" font-weight="normal" textLength="23.4" lengthAdjust="spacingAndGlyphs" >no CAR-T</text>
<line x1="458.3" y1="187" x2="465.9" y2="187" stroke="#e3983a" stroke-width="1.8" />
<text x="468.9" y="188.8" font-size="5.6" text-anchor="start" fill="#222" font-weight="normal" textLength="36.4" lengthAdjust="spacingAndGlyphs" >Enzyme CAR-T</text>
<line x1="458.3" y1="195.8" x2="465.9" y2="195.8" stroke="#f3c22a" stroke-width="1.8" />
<text x="468.9" y="197.6" font-size="5.6" text-anchor="start" fill="#222" font-weight="normal" textLength="43.8" lengthAdjust="spacingAndGlyphs" >no Enzyme CAR-T</text>
<text x="481.9" y="244.2" font-size="6.2" text-anchor="start" fill="#222" font-weight="normal" textLength="23.4" lengthAdjust="spacingAndGlyphs" >p=0.0010</text>
<text x="481.9" y="262" font-size="6.2" text-anchor="start" fill="#222" font-weight="normal" textLength="23.4" lengthAdjust="spacingAndGlyphs" >p=0.0023</text>
<text x="6.9" y="316.1" font-size="11.8" text-anchor="start" fill="#000" font-weight="bold" style="stroke:#000;stroke-width:0.35px">G</text>
<line x1="40.7" y1="343.6" x2="40.7" y2="417.7" stroke="#000" stroke-width="1.2" />
<line x1="37.7" y1="417.1" x2="40.7" y2="417.1" stroke="#000" stroke-width="0.9" />
<text x="35.4" y="418.97" font-size="5.2" text-anchor="end" fill="#222" font-weight="normal" style="stroke-width:0.05px">0</text>
<line x1="37.7" y1="399.35" x2="40.7" y2="399.35" stroke="#000" stroke-width="0.9" />
<text x="35.4" y="401.22" font-size="5.2" text-anchor="end" fill="#222" font-weight="normal" style="stroke-width:0.05px">1</text>
<line x1="37.7" y1="381.6" x2="40.7" y2="381.6" stroke="#000" stroke-width="0.9" />
<text x="35.4" y="383.47" font-size="5.2" text-anchor="end" fill="#222" font-weight="normal" style="stroke-width:0.05px">2</text>
<line x1="37.7" y1="363.85" x2="40.7" y2="363.85" stroke="#000" stroke-width="0.9" />
<text x="35.4" y="365.72" font-size="5.2" text-anchor="end" fill="#222" font-weight="normal" style="stroke-width:0.05px">3</text>
<line x1="37.7" y1="346.1" x2="40.7" y2="346.1" stroke="#000" stroke-width="0.9" />
<text x="35.4" y="347.97" font-size="5.2" text-anchor="end" fill="#222" font-weight="normal" style="stroke-width:0.05px">4</text>
<line x1="40.1" y1="417.1" x2="178.2" y2="417.1" stroke="#000" stroke-width="1.2" />
<line x1="54.5" y1="417.1" x2="54.5" y2="419.9" stroke="#000" stroke-width="1" />
<line x1="81.3" y1="417.1" x2="81.3" y2="419.9" stroke="#000" stroke-width="1" />
<line x1="110.2" y1="417.1" x2="110.2" y2="419.9" stroke="#000" stroke-width="1" />
<line x1="138.3" y1="417.1" x2="138.3" y2="419.9" stroke="#000" stroke-width="1" />
<line x1="166.1" y1="417.1" x2="166.1" y2="419.9" stroke="#000" stroke-width="1" />
<text x="54.5" y="428.5" font-size="5.6" text-anchor="middle" fill="#222" font-weight="normal" textLength="18" lengthAdjust="spacingAndGlyphs" style="stroke-width:0.08px">Tumour</text>
<text x="54.5" y="434.6" font-size="5.6" text-anchor="middle" fill="#222" font-weight="normal" textLength="18.9" lengthAdjust="spacingAndGlyphs" style="stroke-width:0.08px">Bearing</text>
<text x="82.5" y="428.5" font-size="5.6" text-anchor="middle" fill="#222" font-weight="normal" textLength="26.6" lengthAdjust="spacingAndGlyphs" style="stroke-width:0.08px">no Enzyme</text>
<text x="110.8" y="428.5" font-size="5.6" text-anchor="middle" fill="#222" font-weight="normal" textLength="10" lengthAdjust="spacingAndGlyphs" style="stroke-width:0.08px">ASS</text>
<text x="138.7" y="428.5" font-size="5.6" text-anchor="middle" fill="#222" font-weight="normal" textLength="11.2" lengthAdjust="spacingAndGlyphs" style="stroke-width:0.08px">OTC</text>
<text x="166.6" y="428.5" font-size="5.6" text-anchor="middle" fill="#222" font-weight="normal" textLength="23" lengthAdjust="spacingAndGlyphs" style="stroke-width:0.08px">ASS/OTC</text>
<line x1="67.5" y1="432.3" x2="178.2" y2="432.3" stroke="#000" stroke-width="0.9" />
<text x="125.2" y="440" font-size="5.6" text-anchor="middle" fill="#222" font-weight="normal" textLength="72" lengthAdjust="spacingAndGlyphs" style="stroke-width:0.08px">Tumour bearing mice injected</text>
<text x="125" y="445.6" font-size="5.6" text-anchor="middle" fill="#222" font-weight="normal" textLength="51" lengthAdjust="spacingAndGlyphs" style="stroke-width:0.08px">with anti-GD2 CAR-T</text>
<text x="27.4" y="380.3" font-size="7.9" text-anchor="middle" fill="#222" font-weight="normal" textLength="41" lengthAdjust="spacingAndGlyphs" transform="rotate(-90 27.4 380.3)" >% of CAR-T cells</text>
<line x1="77.9" y1="340" x2="168.2" y2="340" stroke="#3a3a3a" stroke-width="1.05" />
<polygon points="77.7,338.5 79.6,340 77.7,341.5" fill="#222"/>
<polygon points="168.4,338.5 166.5,340 168.4,341.5" fill="#222"/>
<text x="122.9" y="338.1" font-size="5.8" text-anchor="middle" fill="#333" font-weight="normal" textLength="19.5" lengthAdjust="spacingAndGlyphs" style="stroke-width:0.1px">p=0.008</text>
<line x1="77.9" y1="349" x2="139.3" y2="349" stroke="#3a3a3a" stroke-width="1.05" />
<polygon points="77.7,347.5 79.6,349 77.7,350.5" fill="#222"/>
<polygon points="139.5,347.5 137.6,349 139.5,350.5" fill="#222"/>
<text x="108.2" y="347.1" font-size="5.8" text-anchor="middle" fill="#333" font-weight="normal" textLength="19.5" lengthAdjust="spacingAndGlyphs" style="stroke-width:0.1px">p=0.004</text>
<line x1="77.9" y1="357.3" x2="112" y2="357.3" stroke="#3a3a3a" stroke-width="1.05" />
<polygon points="77.7,355.8 79.6,357.3 77.7,358.8" fill="#222"/>
<polygon points="112.2,355.8 110.3,357.3 112.2,358.8" fill="#222"/>
<text x="96" y="355.4" font-size="5.8" text-anchor="middle" fill="#333" font-weight="normal" textLength="16" lengthAdjust="spacingAndGlyphs" style="stroke-width:0.1px">p=0.02</text>
<line x1="48.5" y1="417" x2="61" y2="417" stroke="#26478a" stroke-width="3.4" stroke-linecap="round"/>
<line x1="75.5" y1="406.3" x2="89.5" y2="406.3" stroke="#111" stroke-width="1.45" />
<circle cx="82.3" cy="390.8" r="2.5" fill="#f3c22a" stroke="#000" stroke-width="0.8"/>
<circle cx="78.7" cy="399.6" r="2.5" fill="#f3c22a" stroke="#000" stroke-width="0.8"/>
<circle cx="86.2" cy="399.6" r="2.5" fill="#f3c22a" stroke="#000" stroke-width="0.8"/>
<circle cx="75.1" cy="406.3" r="2.5" fill="#f3c22a" stroke="#000" stroke-width="0.8"/>
<circle cx="89.8" cy="407.7" r="2.5" fill="#f3c22a" stroke="#000" stroke-width="0.8"/>
<circle cx="78.7" cy="412.6" r="2.5" fill="#f3c22a" stroke="#000" stroke-width="0.8"/>
<circle cx="86.2" cy="411.7" r="2.5" fill="#f3c22a" stroke="#000" stroke-width="0.8"/>
<circle cx="84.7" cy="414.7" r="2.5" fill="#f3c22a" stroke="#000" stroke-width="0.8"/>
<circle cx="80.1" cy="417.4" r="2.5" fill="#f3c22a" stroke="#000" stroke-width="0.8"/>
<line x1="101.2" y1="393.9" x2="119.8" y2="393.9" stroke="#111" stroke-width="1.45" />
<rect x="113.6" y="380.5" width="5.2" height="5.2" fill="#62b2ea" stroke="#000" stroke-width="0.8"/>
<rect x="102.5" y="385.1" width="5.2" height="5.2" fill="#62b2ea" stroke="#000" stroke-width="0.8"/>
<rect x="107.9" y="385.9" width="5.2" height="5.2" fill="#62b2ea" stroke="#000" stroke-width="0.8"/>
<rect x="111.7" y="385.1" width="5.2" height="5.2" fill="#62b2ea" stroke="#000" stroke-width="0.8"/>
<rect x="104.2" y="397.3" width="5.2" height="5.2" fill="#62b2ea" stroke="#000" stroke-width="0.8"/>
<rect x="111.7" y="396.8" width="5.2" height="5.2" fill="#62b2ea" stroke="#000" stroke-width="0.8"/>
<rect x="110" y="401.4" width="5.2" height="5.2" fill="#62b2ea" stroke="#000" stroke-width="0.8"/>
<rect x="105.5" y="403.4" width="5.2" height="5.2" fill="#62b2ea" stroke="#000" stroke-width="0.8"/>
<line x1="129.3" y1="385.2" x2="147.6" y2="385.2" stroke="#111" stroke-width="1.45" />
<polygon points="138.3,357.07 141.2,362.29 135.4,362.29" fill="#c80e3a" stroke="#000" stroke-width="0.8" stroke-linejoin="miter"/>
<polygon points="138.3,365.77 141.2,370.99 135.4,370.99" fill="#c80e3a" stroke="#000" stroke-width="0.8" stroke-linejoin="miter"/>
<polygon points="138.3,377.67 141.2,382.89 135.4,382.89" fill="#c80e3a" stroke="#000" stroke-width="0.8" stroke-linejoin="miter"/>
<polygon points="144.3,381.57 147.2,386.79 141.4,386.79" fill="#c80e3a" stroke="#000" stroke-width="0.8" stroke-linejoin="miter"/>
<polygon points="132.9,385.37 135.8,390.59 130,390.59" fill="#c80e3a" stroke="#000" stroke-width="0.8" stroke-linejoin="miter"/>
<polygon points="138.3,389.17 141.2,394.39 135.4,394.39" fill="#c80e3a" stroke="#000" stroke-width="0.8" stroke-linejoin="miter"/>
<polygon points="142.4,400.57 145.3,405.79 139.5,405.79" fill="#c80e3a" stroke="#000" stroke-width="0.8" stroke-linejoin="miter"/>
<polygon points="134.7,403.37 137.6,408.59 131.8,408.59" fill="#c80e3a" stroke="#000" stroke-width="0.8" stroke-linejoin="miter"/>
<line x1="157.1" y1="395" x2="175.9" y2="395" stroke="#111" stroke-width="1.45" />
<polygon points="166.6,380.23 169.5,375.01 163.7,375.01" fill="#62b545" stroke="#000" stroke-width="0.8" stroke-linejoin="miter"/>
<polygon points="159.1,389.13 162,383.91 156.2,383.91" fill="#62b545" stroke="#000" stroke-width="0.8" stroke-linejoin="miter"/>
<polygon points="170.2,389.13 173.1,383.91 167.3,383.91" fill="#62b545" stroke="#000" stroke-width="0.8" stroke-linejoin="miter"/>
<polygon points="162.8,396.53 165.7,391.31 159.9,391.31" fill="#62b545" stroke="#000" stroke-width="0.8" stroke-linejoin="miter"/>
<polygon points="170.2,396.53 173.1,391.31 167.3,391.31" fill="#62b545" stroke="#000" stroke-width="0.8" stroke-linejoin="miter"/>
<polygon points="164.4,401.93 167.3,396.71 161.5,396.71" fill="#62b545" stroke="#000" stroke-width="0.8" stroke-linejoin="miter"/>
<polygon points="168.9,402.23 171.8,397.01 166,397.01" fill="#62b545" stroke="#000" stroke-width="0.8" stroke-linejoin="miter"/>
<polygon points="170.2,405.83 173.1,400.61 167.3,400.61" fill="#62b545" stroke="#000" stroke-width="0.8" stroke-linejoin="miter"/>
<polygon points="162.8,412.03 165.7,406.81 159.9,406.81" fill="#62b545" stroke="#000" stroke-width="0.8" stroke-linejoin="miter"/>
<text x="188.3" y="316.1" font-size="11.8" text-anchor="start" fill="#000" font-weight="bold" style="stroke:#000;stroke-width:0.35px">H</text>
<line x1="215.7" y1="324.4" x2="215.7" y2="417.7" stroke="#000" stroke-width="1.2" />
<line x1="212.7" y1="417.1" x2="215.7" y2="417.1" stroke="#000" stroke-width="0.9" />
<text x="210.4" y="419.08" font-size="5.5" text-anchor="end" fill="#222" font-weight="normal" style="stroke-width:0.05px">0</text>
<line x1="212.7" y1="399.1" x2="215.7" y2="399.1" stroke="#000" stroke-width="0.9" />
<text x="210.4" y="401.08" font-size="5.5" text-anchor="end" fill="#222" font-weight="normal" style="stroke-width:0.05px">50</text>
<line x1="212.7" y1="381.1" x2="215.7" y2="381.1" stroke="#000" stroke-width="0.9" />
<text x="210.4" y="383.08" font-size="5.5" text-anchor="end" fill="#222" font-weight="normal" style="stroke-width:0.05px">100</text>
<line x1="212.7" y1="363.1" x2="215.7" y2="363.1" stroke="#000" stroke-width="0.9" />
<text x="210.4" y="365.08" font-size="5.5" text-anchor="end" fill="#222" font-weight="normal" style="stroke-width:0.05px">150</text>
<line x1="212.7" y1="345.1" x2="215.7" y2="345.1" stroke="#000" stroke-width="0.9" />
<text x="210.4" y="347.08" font-size="5.5" text-anchor="end" fill="#222" font-weight="normal" style="stroke-width:0.05px">200</text>
<line x1="212.7" y1="327.1" x2="215.7" y2="327.1" stroke="#000" stroke-width="0.9" />
<text x="210.4" y="329.08" font-size="5.5" text-anchor="end" fill="#222" font-weight="normal" style="stroke-width:0.05px">250</text>
<line x1="215.1" y1="417.1" x2="332.9" y2="417.1" stroke="#000" stroke-width="1.2" />
<line x1="227.2" y1="417.1" x2="227.2" y2="419.9" stroke="#000" stroke-width="1" />
<line x1="250.6" y1="417.1" x2="250.6" y2="419.9" stroke="#000" stroke-width="1" />
<line x1="274.2" y1="417.1" x2="274.2" y2="419.9" stroke="#000" stroke-width="1" />
<line x1="297.5" y1="417.1" x2="297.5" y2="419.9" stroke="#000" stroke-width="1" />
<line x1="321.4" y1="417.1" x2="321.4" y2="419.9" stroke="#000" stroke-width="1" />
<text x="225.4" y="428.5" font-size="5.6" text-anchor="middle" fill="#222" font-weight="normal" textLength="17.8" lengthAdjust="spacingAndGlyphs" style="stroke-width:0.08px">Tumour</text>
<text x="225.5" y="434.6" font-size="5.6" text-anchor="middle" fill="#222" font-weight="normal" textLength="18.7" lengthAdjust="spacingAndGlyphs" style="stroke-width:0.08px">Bearing</text>
<text x="250.6" y="428.5" font-size="5.6" text-anchor="middle" fill="#222" font-weight="normal" textLength="26.4" lengthAdjust="spacingAndGlyphs" style="stroke-width:0.08px">no Enzyme</text>
<text x="274" y="428.5" font-size="5.6" text-anchor="middle" fill="#222" font-weight="normal" textLength="9.7" lengthAdjust="spacingAndGlyphs" style="stroke-width:0.08px">ASS</text>
<text x="297.7" y="428.5" font-size="5.6" text-anchor="middle" fill="#222" font-weight="normal" textLength="10.8" lengthAdjust="spacingAndGlyphs" style="stroke-width:0.08px">OTC</text>
<text x="321.4" y="428.5" font-size="5.6" text-anchor="middle" fill="#222" font-weight="normal" textLength="23.4" lengthAdjust="spacingAndGlyphs" style="stroke-width:0.08px">ASS/OTC</text>
<line x1="237.7" y1="432.3" x2="333.8" y2="432.3" stroke="#000" stroke-width="0.9" />
<text x="285.6" y="440" font-size="5.6" text-anchor="middle" fill="#222" font-weight="normal" textLength="71.8" lengthAdjust="spacingAndGlyphs" style="stroke-width:0.08px">Tumour bearing mice injected</text>
<text x="285.8" y="445.6" font-size="5.6" text-anchor="middle" fill="#222" font-weight="normal" textLength="51.5" lengthAdjust="spacingAndGlyphs" style="stroke-width:0.08px">with anti-GD2 CAR-T</text>
<text x="196.2" y="370.8" font-size="7.9" text-anchor="middle" fill="#222" font-weight="normal" textLength="64" lengthAdjust="spacingAndGlyphs" transform="rotate(-90 196.2 370.8)" >Tumour  growth rate (%)</text>
<line x1="221.7" y1="322.3" x2="321.1" y2="322.3" stroke="#3a3a3a" stroke-width="1.05" />
<polygon points="221.5,320.8 223.4,322.3 221.5,323.8" fill="#222"/>
<polygon points="321.3,320.8 319.4,322.3 321.3,323.8" fill="#222"/>
<text x="271.4" y="320.4" font-size="5.2" text-anchor="middle" fill="#333" font-weight="normal" textLength="5" lengthAdjust="spacingAndGlyphs" font-style="italic" style="stroke-width:0.05px">ns</text>
<line x1="221.7" y1="331.7" x2="298.3" y2="331.7" stroke="#3a3a3a" stroke-width="1.05" />
<polygon points="221.5,330.2 223.4,331.7 221.5,333.2" fill="#222"/>
<polygon points="298.5,330.2 296.6,331.7 298.5,333.2" fill="#222"/>
<text x="260.2" y="329.8" font-size="5.8" text-anchor="middle" fill="#333" font-weight="normal" textLength="23.5" lengthAdjust="spacingAndGlyphs" style="stroke-width:0.1px">p=0.0140</text>
<line x1="221.7" y1="340" x2="271.8" y2="340" stroke="#3a3a3a" stroke-width="1.05" />
<polygon points="221.5,338.5 223.4,340 221.5,341.5" fill="#222"/>
<polygon points="272,338.5 270.1,340 272,341.5" fill="#222"/>
<text x="246.8" y="338.1" font-size="5.2" text-anchor="middle" fill="#333" font-weight="normal" textLength="5" lengthAdjust="spacingAndGlyphs" font-style="italic" style="stroke-width:0.05px">ns</text>
<line x1="221.7" y1="347.8" x2="248.5" y2="347.8" stroke="#3a3a3a" stroke-width="1.05" />
<polygon points="221.5,346.3 223.4,347.8 221.5,349.3" fill="#222"/>
<polygon points="248.7,346.3 246.8,347.8 248.7,349.3" fill="#222"/>
<text x="234.7" y="345.9" font-size="5.2" text-anchor="middle" fill="#333" font-weight="normal" textLength="5" lengthAdjust="spacingAndGlyphs" font-style="italic" style="stroke-width:0.05px">ns</text>
<polygon points="227.2,359.3 229.8,361.9 227.2,364.5 224.6,361.9" fill="#26478a" stroke="#26478a" stroke-width="0"/>
<polygon points="219.4,372.6 222,375.2 219.4,377.8 216.8,375.2" fill="#26478a" stroke="#26478a" stroke-width="0"/>
<polygon points="231.1,371.5 233.7,374.1 231.1,376.7 228.5,374.1" fill="#26478a" stroke="#26478a" stroke-width="0"/>
<polygon points="223.3,378.6 225.9,381.2 223.3,383.8 220.7,381.2" fill="#26478a" stroke="#26478a" stroke-width="0"/>
<polygon points="231.1,381.6 233.7,384.2 231.1,386.8 228.5,384.2" fill="#26478a" stroke="#26478a" stroke-width="0"/>
<polygon points="221.8,385.6 224,387.8 221.8,390 219.6,387.8" fill="#26478a" stroke="#26478a" stroke-width="0"/>
<polygon points="223.4,388 225.6,390.2 223.4,392.4 221.2,390.2" fill="#26478a" stroke="#26478a" stroke-width="0"/>
<polygon points="225.2,389.4 227.4,391.6 225.2,393.8 223,391.6" fill="#26478a" stroke="#26478a" stroke-width="0"/>
<polygon points="227.2,390 229.4,392.2 227.2,394.4 225,392.2" fill="#26478a" stroke="#26478a" stroke-width="0"/>
<polygon points="229.2,389.4 231.4,391.6 229.2,393.8 227,391.6" fill="#26478a" stroke="#26478a" stroke-width="0"/>
<polygon points="231,388 233.2,390.2 231,392.4 228.8,390.2" fill="#26478a" stroke="#26478a" stroke-width="0"/>
<polygon points="232.6,385.6 234.8,387.8 232.6,390 230.4,387.8" fill="#26478a" stroke="#26478a" stroke-width="0"/>
<line x1="219.1" y1="383.3" x2="235.1" y2="383.3" stroke="#111" stroke-width="1.3" />
<line x1="242.9" y1="393.6" x2="258.8" y2="393.6" stroke="#111" stroke-width="1.45" />
<circle cx="250.6" cy="374.9" r="2.6" fill="#f3c22a" stroke="#000" stroke-width="0.8"/>
<circle cx="246.9" cy="389.2" r="2.6" fill="#f3c22a" stroke="#000" stroke-width="0.8"/>
<circle cx="254.7" cy="389.2" r="2.6" fill="#f3c22a" stroke="#000" stroke-width="0.8"/>
<circle cx="250.6" cy="393.6" r="2.6" fill="#f3c22a" stroke="#000" stroke-width="0.8"/>
<circle cx="255" cy="397" r="2.6" fill="#f3c22a" stroke="#000" stroke-width="0.8"/>
<circle cx="246.6" cy="399.2" r="2.6" fill="#f3c22a" stroke="#000" stroke-width="0.8"/>
<circle cx="252.5" cy="401.4" r="2.6" fill="#f3c22a" stroke="#000" stroke-width="0.8"/>
<circle cx="248.5" cy="403.6" r="2.6" fill="#f3c22a" stroke="#000" stroke-width="0.8"/>
<line x1="266.5" y1="390.8" x2="282" y2="390.8" stroke="#111" stroke-width="1.45" />
<rect x="271.6" y="366.8" width="5.2" height="5.2" fill="#62b2ea" stroke="#000" stroke-width="0.8"/>
<rect x="275.4" y="373.1" width="5.2" height="5.2" fill="#62b2ea" stroke="#000" stroke-width="0.8"/>
<rect x="267.8" y="378" width="5.2" height="5.2" fill="#62b2ea" stroke="#000" stroke-width="0.8"/>
<rect x="271.6" y="387.6" width="5.2" height="5.2" fill="#62b2ea" stroke="#000" stroke-width="0.8"/>
<rect x="268.1" y="394.4" width="5.2" height="5.2" fill="#62b2ea" stroke="#000" stroke-width="0.8"/>
<rect x="275.4" y="395.9" width="5.2" height="5.2" fill="#62b2ea" stroke="#000" stroke-width="0.8"/>
<rect x="271.6" y="401.6" width="5.2" height="5.2" fill="#62b2ea" stroke="#000" stroke-width="0.8"/>
<rect x="270" y="397.4" width="5.2" height="5.2" fill="#62b2ea" stroke="#000" stroke-width="0.8"/>
<line x1="289.9" y1="400" x2="305.2" y2="400" stroke="#111" stroke-width="1.45" />
<polygon points="293.7,386.37 296.6,391.59 290.8,391.59" fill="#c80e3a" stroke="#000" stroke-width="0.8" stroke-linejoin="miter"/>
<polygon points="301.7,385.37 304.6,390.59 298.8,390.59" fill="#c80e3a" stroke="#000" stroke-width="0.8" stroke-linejoin="miter"/>
<polygon points="293.3,393.07 296.2,398.29 290.4,398.29" fill="#c80e3a" stroke="#000" stroke-width="0.8" stroke-linejoin="miter"/>
<polygon points="301.7,394.97 304.6,400.19 298.8,400.19" fill="#c80e3a" stroke="#000" stroke-width="0.8" stroke-linejoin="miter"/>
<polygon points="295.6,397.87 298.5,403.09 292.7,403.09" fill="#c80e3a" stroke="#000" stroke-width="0.8" stroke-linejoin="miter"/>
<polygon points="299.4,399.77 302.3,404.99 296.5,404.99" fill="#c80e3a" stroke="#000" stroke-width="0.8" stroke-linejoin="miter"/>
<polygon points="301.7,406.87 304.6,412.09 298.8,412.09" fill="#c80e3a" stroke="#000" stroke-width="0.8" stroke-linejoin="miter"/>
<polygon points="293.7,412.57 296.6,417.79 290.8,417.79" fill="#c80e3a" stroke="#000" stroke-width="0.8" stroke-linejoin="miter"/>
<line x1="313.2" y1="383.4" x2="328.1" y2="383.4" stroke="#111" stroke-width="1.45" />
<polygon points="325.2,345.73 328.1,340.51 322.3,340.51" fill="#62b545" stroke="#000" stroke-width="0.8" stroke-linejoin="miter"/>
<polygon points="317.2,350.53 320.1,345.31 314.3,345.31" fill="#62b545" stroke="#000" stroke-width="0.8" stroke-linejoin="miter"/>
<polygon points="320.8,369.63 323.7,364.41 317.9,364.41" fill="#62b545" stroke="#000" stroke-width="0.8" stroke-linejoin="miter"/>
<polygon points="320.8,381.73 323.7,376.51 317.9,376.51" fill="#62b545" stroke="#000" stroke-width="0.8" stroke-linejoin="miter"/>
<polygon points="325.2,392.63 328.1,387.41 322.3,387.41" fill="#62b545" stroke="#000" stroke-width="0.8" stroke-linejoin="miter"/>
<polygon points="317.2,397.03 320.1,391.81 314.3,391.81" fill="#62b545" stroke="#000" stroke-width="0.8" stroke-linejoin="miter"/>
<polygon points="320.8,400.23 323.7,395.01 317.9,395.01" fill="#62b545" stroke="#000" stroke-width="0.8" stroke-linejoin="miter"/>
<polygon points="317.2,418.43 320.1,413.21 314.3,413.21" fill="#62b545" stroke="#000" stroke-width="0.8" stroke-linejoin="miter"/>
<polygon points="325.2,418.43 328.1,413.21 322.3,413.21" fill="#62b545" stroke="#000" stroke-width="0.8" stroke-linejoin="miter"/>
<text x="346.3" y="316.1" font-size="11.8" text-anchor="start" fill="#000" font-weight="bold" style="stroke:#000;stroke-width:0.35px">I</text>
<line x1="370.6" y1="327.7" x2="370.6" y2="417.7" stroke="#000" stroke-width="1.2" />
<line x1="367.1" y1="417.1" x2="370.6" y2="417.1" stroke="#000" stroke-width="0.9" />
<text x="364.8" y="419.08" font-size="5.5" text-anchor="end" fill="#222" font-weight="normal" style="stroke-width:0.05px">0</text>
<line x1="367.1" y1="376.6" x2="370.6" y2="376.6" stroke="#000" stroke-width="0.9" />
<text x="364.8" y="378.58" font-size="5.5" text-anchor="end" fill="#222" font-weight="normal" style="stroke-width:0.05px">50</text>
<line x1="367.1" y1="336.1" x2="370.6" y2="336.1" stroke="#000" stroke-width="0.9" />
<text x="364.8" y="338.08" font-size="5.5" text-anchor="end" fill="#222" font-weight="normal" style="stroke-width:0.05px">100</text>
<line x1="370" y1="417.2" x2="509.6" y2="417.2" stroke="#000" stroke-width="1.5" />
<line x1="370.6" y1="417.2" x2="370.6" y2="419.9" stroke="#000" stroke-width="1.2" />
<text x="370.6" y="428.1" font-size="5.5" text-anchor="middle" fill="#222" font-weight="normal" textLength="2.8" lengthAdjust="spacingAndGlyphs" >0</text>
<line x1="377.69" y1="417.2" x2="377.69" y2="419.9" stroke="#000" stroke-width="1.2" />
<text x="377.69" y="428.1" font-size="5.5" text-anchor="middle" fill="#222" font-weight="normal" textLength="2.8" lengthAdjust="spacingAndGlyphs" >3</text>
<line x1="384.78" y1="417.2" x2="384.78" y2="419.9" stroke="#000" stroke-width="1.2" />
<text x="384.78" y="428.1" font-size="5.5" text-anchor="middle" fill="#222" font-weight="normal" textLength="2.8" lengthAdjust="spacingAndGlyphs" >6</text>
<line x1="391.87" y1="417.2" x2="391.87" y2="419.9" stroke="#000" stroke-width="1.2" />
<text x="391.87" y="428.1" font-size="5.5" text-anchor="middle" fill="#222" font-weight="normal" textLength="2.8" lengthAdjust="spacingAndGlyphs" >9</text>
<line x1="398.96" y1="417.2" x2="398.96" y2="419.9" stroke="#000" stroke-width="1.2" />
<text x="398.96" y="428.1" font-size="5.5" text-anchor="middle" fill="#222" font-weight="normal" textLength="5.5" lengthAdjust="spacingAndGlyphs" >12</text>
<line x1="406.05" y1="417.2" x2="406.05" y2="419.9" stroke="#000" stroke-width="1.2" />
<text x="406.05" y="428.1" font-size="5.5" text-anchor="middle" fill="#222" font-weight="normal" textLength="5.5" lengthAdjust="spacingAndGlyphs" >15</text>
<line x1="413.14" y1="417.2" x2="413.14" y2="419.9" stroke="#000" stroke-width="1.2" />
<text x="413.14" y="428.1" font-size="5.5" text-anchor="middle" fill="#222" font-weight="normal" textLength="5.5" lengthAdjust="spacingAndGlyphs" >18</text>
<line x1="420.23" y1="417.2" x2="420.23" y2="419.9" stroke="#000" stroke-width="1.2" />
<text x="420.23" y="428.1" font-size="5.5" text-anchor="middle" fill="#222" font-weight="normal" textLength="5.5" lengthAdjust="spacingAndGlyphs" >21</text>
<line x1="427.32" y1="417.2" x2="427.32" y2="419.9" stroke="#000" stroke-width="1.2" />
<text x="427.32" y="428.1" font-size="5.5" text-anchor="middle" fill="#222" font-weight="normal" textLength="5.5" lengthAdjust="spacingAndGlyphs" >24</text>
<line x1="434.41" y1="417.2" x2="434.41" y2="419.9" stroke="#000" stroke-width="1.2" />
<text x="434.41" y="428.1" font-size="5.5" text-anchor="middle" fill="#222" font-weight="normal" textLength="5.5" lengthAdjust="spacingAndGlyphs" >27</text>
<line x1="441.5" y1="417.2" x2="441.5" y2="419.9" stroke="#000" stroke-width="1.2" />
<text x="441.5" y="428.1" font-size="5.5" text-anchor="middle" fill="#222" font-weight="normal" textLength="5.5" lengthAdjust="spacingAndGlyphs" >30</text>
<line x1="448.59" y1="417.2" x2="448.59" y2="419.9" stroke="#000" stroke-width="1.2" />
<text x="448.59" y="428.1" font-size="5.5" text-anchor="middle" fill="#222" font-weight="normal" textLength="5.5" lengthAdjust="spacingAndGlyphs" >33</text>
<line x1="455.68" y1="417.2" x2="455.68" y2="419.9" stroke="#000" stroke-width="1.2" />
<text x="455.68" y="428.1" font-size="5.5" text-anchor="middle" fill="#222" font-weight="normal" textLength="5.5" lengthAdjust="spacingAndGlyphs" >36</text>
<line x1="462.77" y1="417.2" x2="462.77" y2="419.9" stroke="#000" stroke-width="1.2" />
<text x="462.77" y="428.1" font-size="5.5" text-anchor="middle" fill="#222" font-weight="normal" textLength="5.5" lengthAdjust="spacingAndGlyphs" >39</text>
<line x1="469.86" y1="417.2" x2="469.86" y2="419.9" stroke="#000" stroke-width="1.2" />
<text x="469.86" y="428.1" font-size="5.5" text-anchor="middle" fill="#222" font-weight="normal" textLength="5.5" lengthAdjust="spacingAndGlyphs" >42</text>
<line x1="476.95" y1="417.2" x2="476.95" y2="419.9" stroke="#000" stroke-width="1.2" />
<text x="476.95" y="428.1" font-size="5.5" text-anchor="middle" fill="#222" font-weight="normal" textLength="5.5" lengthAdjust="spacingAndGlyphs" >45</text>
<line x1="484.04" y1="417.2" x2="484.04" y2="419.9" stroke="#000" stroke-width="1.2" />
<text x="484.04" y="428.1" font-size="5.5" text-anchor="middle" fill="#222" font-weight="normal" textLength="5.5" lengthAdjust="spacingAndGlyphs" >48</text>
<line x1="491.13" y1="417.2" x2="491.13" y2="419.9" stroke="#000" stroke-width="1.2" />
<text x="491.13" y="428.1" font-size="5.5" text-anchor="middle" fill="#222" font-weight="normal" textLength="5.5" lengthAdjust="spacingAndGlyphs" >51</text>
<line x1="498.22" y1="417.2" x2="498.22" y2="419.9" stroke="#000" stroke-width="1.2" />
<text x="498.22" y="428.1" font-size="5.5" text-anchor="middle" fill="#222" font-weight="normal" textLength="5.5" lengthAdjust="spacingAndGlyphs" >54</text>
<line x1="505.31" y1="417.2" x2="505.31" y2="419.9" stroke="#000" stroke-width="1.2" />
<text x="505.31" y="428.1" font-size="5.5" text-anchor="middle" fill="#222" font-weight="normal" textLength="5.5" lengthAdjust="spacingAndGlyphs" >57</text>
<text x="440.3" y="438.6" font-size="7.3" text-anchor="middle" fill="#222" font-weight="normal" textLength="81.5" lengthAdjust="spacingAndGlyphs" >Days from the tumour injection</text>
<text x="350.8" y="372.8" font-size="7.9" text-anchor="middle" fill="#222" font-weight="normal" textLength="41.7" lengthAdjust="spacingAndGlyphs" transform="rotate(-90 350.8 372.8)" >Percent survival</text>
<polyline points="370.6,336.1 396.7,336.1 396.7,345 403.5,345 403.5,372.1 413.1,372.1 413.1,390.3 424.8,390.3 424.8,399.4 429.4,399.4 429.4,408.4 431.7,408.4 431.7,417.1" fill="none" stroke="#26478a" stroke-width="1.3" stroke-linejoin="miter" />
<polyline points="370.6,336.1 396.7,336.1 396.7,363.5 408.2,363.5 408.2,372.1 424.8,372.1 424.8,381.1 436.5,381.1 436.5,399.4 509.6,399.4" fill="none" stroke="#62b545" stroke-width="1.3" stroke-linejoin="miter" />
<polyline points="370.6,336.1 420.2,336.1 420.2,366.6 429.6,366.6 429.6,376.4 436.5,376.4 436.5,386.8 509.6,386.8" fill="none" stroke="#c80e3a" stroke-width="1.3" stroke-linejoin="miter" />
<polyline points="370.6,336.1 408.7,336.1 408.7,344.3 413,344.3 413,353.8 420.3,353.8 420.3,372.1 441.4,372.1 441.4,390.3 458.1,390.3 458.1,408.4 474.6,408.4 474.6,417.1" fill="none" stroke="#62b2ea" stroke-width="1.3" stroke-linejoin="miter" />
<line x1="464.8" y1="330.8" x2="471.1" y2="330.8" stroke="#62b2ea" stroke-width="1.6" />
<text x="474.2" y="332.5" font-size="5.6" text-anchor="start" fill="#222" font-weight="normal" textLength="22.8" lengthAdjust="spacingAndGlyphs" >GD2-ASS</text>
<line x1="464.8" y1="339.6" x2="471.1" y2="339.6" stroke="#c80e3a" stroke-width="1.6" />
<text x="474.2" y="341.3" font-size="5.6" text-anchor="start" fill="#222" font-weight="normal" textLength="24.3" lengthAdjust="spacingAndGlyphs" >GD2-OTC</text>
<line x1="464.8" y1="348.2" x2="471.1" y2="348.2" stroke="#62b545" stroke-width="1.6" />
<text x="474.2" y="349.9" font-size="5.6" text-anchor="start" fill="#222" font-weight="normal" textLength="35.8" lengthAdjust="spacingAndGlyphs" >GD2-ASS OTC</text>
<line x1="464.8" y1="357.1" x2="471.1" y2="357.1" stroke="#26478a" stroke-width="1.6" />
<text x="474.2" y="358.8" font-size="5.6" text-anchor="start" fill="#222" font-weight="normal" textLength="22.8" lengthAdjust="spacingAndGlyphs" >no CAR-T</text>
<text x="480.2" y="384.3" font-size="6.2" text-anchor="start" fill="#222" font-weight="normal" textLength="24.2" lengthAdjust="spacingAndGlyphs" >p=0.0079</text>
<text x="492.3" y="396.8" font-size="6" text-anchor="middle" fill="#222" font-weight="normal" textLength="5.5" lengthAdjust="spacingAndGlyphs" >ns</text>
<text x="480.2" y="414.2" font-size="6.2" text-anchor="start" fill="#222" font-weight="normal" textLength="20" lengthAdjust="spacingAndGlyphs" >p=0.011</text>
<rect x="0" y="0" width="520" height="1.1" fill="#000"/><rect x="0" y="0" width="1.1" height="455" fill="#000"/><rect x="518.8" y="0" width="1.2" height="455" fill="#000"/><rect x="0" y="453.8" width="520" height="1.2" fill="#000"/>
</svg></body></html>
